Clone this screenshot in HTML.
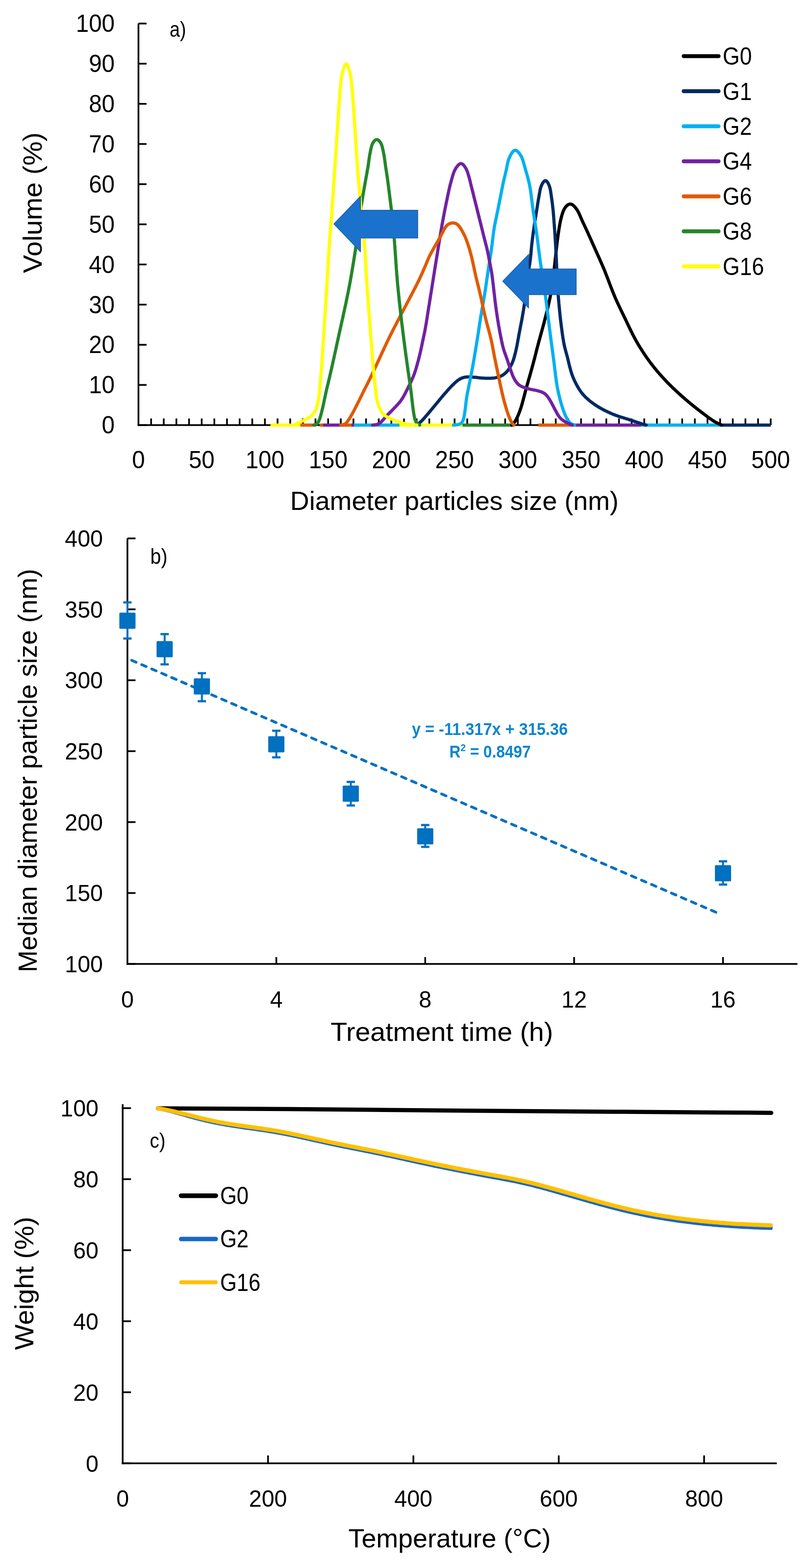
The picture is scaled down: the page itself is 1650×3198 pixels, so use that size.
<!DOCTYPE html>
<html><head><meta charset="utf-8"><title>Figure</title>
<style>html,body{margin:0;padding:0;background:#fff;}svg{display:block;}text{font-family:"Liberation Sans",Arial,sans-serif;}</style>
</head><body>
<svg width="1650" height="3198" viewBox="0 0 1650 3198" font-family="'Liberation Sans', Arial, sans-serif">
<rect width="100%" height="100%" fill="#fff"/>
<line x1="282.4" y1="48" x2="282.4" y2="868.75" stroke="#000" stroke-width="3.5" stroke-linecap="butt"/>
<line x1="280.65" y1="867" x2="1571.9" y2="867" stroke="#000" stroke-width="3.5" stroke-linecap="butt"/>
<line x1="282.4" y1="867" x2="298.9" y2="867" stroke="#000" stroke-width="3.5" stroke-linecap="butt"/>
<line x1="282.4" y1="785.1" x2="298.9" y2="785.1" stroke="#000" stroke-width="3.5" stroke-linecap="butt"/>
<line x1="282.4" y1="703.2" x2="298.9" y2="703.2" stroke="#000" stroke-width="3.5" stroke-linecap="butt"/>
<line x1="282.4" y1="621.3" x2="298.9" y2="621.3" stroke="#000" stroke-width="3.5" stroke-linecap="butt"/>
<line x1="282.4" y1="539.4" x2="298.9" y2="539.4" stroke="#000" stroke-width="3.5" stroke-linecap="butt"/>
<line x1="282.4" y1="457.5" x2="298.9" y2="457.5" stroke="#000" stroke-width="3.5" stroke-linecap="butt"/>
<line x1="282.4" y1="375.6" x2="298.9" y2="375.6" stroke="#000" stroke-width="3.5" stroke-linecap="butt"/>
<line x1="282.4" y1="293.7" x2="298.9" y2="293.7" stroke="#000" stroke-width="3.5" stroke-linecap="butt"/>
<line x1="282.4" y1="211.8" x2="298.9" y2="211.8" stroke="#000" stroke-width="3.5" stroke-linecap="butt"/>
<line x1="282.4" y1="129.9" x2="298.9" y2="129.9" stroke="#000" stroke-width="3.5" stroke-linecap="butt"/>
<line x1="282.4" y1="48" x2="298.9" y2="48" stroke="#000" stroke-width="3.5" stroke-linecap="butt"/>
<line x1="308.19" y1="867" x2="308.19" y2="853.5" stroke="#000" stroke-width="3.5" stroke-linecap="butt"/>
<line x1="333.98" y1="867" x2="333.98" y2="853.5" stroke="#000" stroke-width="3.5" stroke-linecap="butt"/>
<line x1="359.77" y1="867" x2="359.77" y2="853.5" stroke="#000" stroke-width="3.5" stroke-linecap="butt"/>
<line x1="385.56" y1="867" x2="385.56" y2="853.5" stroke="#000" stroke-width="3.5" stroke-linecap="butt"/>
<line x1="411.35" y1="867" x2="411.35" y2="853.5" stroke="#000" stroke-width="3.5" stroke-linecap="butt"/>
<line x1="437.14" y1="867" x2="437.14" y2="853.5" stroke="#000" stroke-width="3.5" stroke-linecap="butt"/>
<line x1="462.93" y1="867" x2="462.93" y2="853.5" stroke="#000" stroke-width="3.5" stroke-linecap="butt"/>
<line x1="488.72" y1="867" x2="488.72" y2="853.5" stroke="#000" stroke-width="3.5" stroke-linecap="butt"/>
<line x1="514.51" y1="867" x2="514.51" y2="853.5" stroke="#000" stroke-width="3.5" stroke-linecap="butt"/>
<line x1="540.3" y1="867" x2="540.3" y2="853.5" stroke="#000" stroke-width="3.5" stroke-linecap="butt"/>
<line x1="566.09" y1="867" x2="566.09" y2="853.5" stroke="#000" stroke-width="3.5" stroke-linecap="butt"/>
<line x1="591.88" y1="867" x2="591.88" y2="853.5" stroke="#000" stroke-width="3.5" stroke-linecap="butt"/>
<line x1="617.67" y1="867" x2="617.67" y2="853.5" stroke="#000" stroke-width="3.5" stroke-linecap="butt"/>
<line x1="643.46" y1="867" x2="643.46" y2="853.5" stroke="#000" stroke-width="3.5" stroke-linecap="butt"/>
<line x1="669.25" y1="867" x2="669.25" y2="853.5" stroke="#000" stroke-width="3.5" stroke-linecap="butt"/>
<line x1="695.04" y1="867" x2="695.04" y2="853.5" stroke="#000" stroke-width="3.5" stroke-linecap="butt"/>
<line x1="720.83" y1="867" x2="720.83" y2="853.5" stroke="#000" stroke-width="3.5" stroke-linecap="butt"/>
<line x1="746.62" y1="867" x2="746.62" y2="853.5" stroke="#000" stroke-width="3.5" stroke-linecap="butt"/>
<line x1="772.41" y1="867" x2="772.41" y2="853.5" stroke="#000" stroke-width="3.5" stroke-linecap="butt"/>
<line x1="798.2" y1="867" x2="798.2" y2="853.5" stroke="#000" stroke-width="3.5" stroke-linecap="butt"/>
<line x1="823.99" y1="867" x2="823.99" y2="853.5" stroke="#000" stroke-width="3.5" stroke-linecap="butt"/>
<line x1="849.78" y1="867" x2="849.78" y2="853.5" stroke="#000" stroke-width="3.5" stroke-linecap="butt"/>
<line x1="875.57" y1="867" x2="875.57" y2="853.5" stroke="#000" stroke-width="3.5" stroke-linecap="butt"/>
<line x1="901.36" y1="867" x2="901.36" y2="853.5" stroke="#000" stroke-width="3.5" stroke-linecap="butt"/>
<line x1="927.15" y1="867" x2="927.15" y2="853.5" stroke="#000" stroke-width="3.5" stroke-linecap="butt"/>
<line x1="952.94" y1="867" x2="952.94" y2="853.5" stroke="#000" stroke-width="3.5" stroke-linecap="butt"/>
<line x1="978.73" y1="867" x2="978.73" y2="853.5" stroke="#000" stroke-width="3.5" stroke-linecap="butt"/>
<line x1="1004.52" y1="867" x2="1004.52" y2="853.5" stroke="#000" stroke-width="3.5" stroke-linecap="butt"/>
<line x1="1030.31" y1="867" x2="1030.31" y2="853.5" stroke="#000" stroke-width="3.5" stroke-linecap="butt"/>
<line x1="1056.1" y1="867" x2="1056.1" y2="853.5" stroke="#000" stroke-width="3.5" stroke-linecap="butt"/>
<line x1="1081.89" y1="867" x2="1081.89" y2="853.5" stroke="#000" stroke-width="3.5" stroke-linecap="butt"/>
<line x1="1107.68" y1="867" x2="1107.68" y2="853.5" stroke="#000" stroke-width="3.5" stroke-linecap="butt"/>
<line x1="1133.47" y1="867" x2="1133.47" y2="853.5" stroke="#000" stroke-width="3.5" stroke-linecap="butt"/>
<line x1="1159.26" y1="867" x2="1159.26" y2="853.5" stroke="#000" stroke-width="3.5" stroke-linecap="butt"/>
<line x1="1185.05" y1="867" x2="1185.05" y2="853.5" stroke="#000" stroke-width="3.5" stroke-linecap="butt"/>
<line x1="1210.84" y1="867" x2="1210.84" y2="853.5" stroke="#000" stroke-width="3.5" stroke-linecap="butt"/>
<line x1="1236.63" y1="867" x2="1236.63" y2="853.5" stroke="#000" stroke-width="3.5" stroke-linecap="butt"/>
<line x1="1262.42" y1="867" x2="1262.42" y2="853.5" stroke="#000" stroke-width="3.5" stroke-linecap="butt"/>
<line x1="1288.21" y1="867" x2="1288.21" y2="853.5" stroke="#000" stroke-width="3.5" stroke-linecap="butt"/>
<line x1="1314" y1="867" x2="1314" y2="853.5" stroke="#000" stroke-width="3.5" stroke-linecap="butt"/>
<line x1="1339.79" y1="867" x2="1339.79" y2="853.5" stroke="#000" stroke-width="3.5" stroke-linecap="butt"/>
<line x1="1365.58" y1="867" x2="1365.58" y2="853.5" stroke="#000" stroke-width="3.5" stroke-linecap="butt"/>
<line x1="1391.37" y1="867" x2="1391.37" y2="853.5" stroke="#000" stroke-width="3.5" stroke-linecap="butt"/>
<line x1="1417.16" y1="867" x2="1417.16" y2="853.5" stroke="#000" stroke-width="3.5" stroke-linecap="butt"/>
<line x1="1442.95" y1="867" x2="1442.95" y2="853.5" stroke="#000" stroke-width="3.5" stroke-linecap="butt"/>
<line x1="1468.74" y1="867" x2="1468.74" y2="853.5" stroke="#000" stroke-width="3.5" stroke-linecap="butt"/>
<line x1="1494.53" y1="867" x2="1494.53" y2="853.5" stroke="#000" stroke-width="3.5" stroke-linecap="butt"/>
<line x1="1520.32" y1="867" x2="1520.32" y2="853.5" stroke="#000" stroke-width="3.5" stroke-linecap="butt"/>
<line x1="1546.11" y1="867" x2="1546.11" y2="853.5" stroke="#000" stroke-width="3.5" stroke-linecap="butt"/>
<line x1="1571.9" y1="867" x2="1571.9" y2="853.5" stroke="#000" stroke-width="3.5" stroke-linecap="butt"/>
<line x1="551.6" y1="867" x2="612.8" y2="867" stroke="#FFFF00" stroke-width="6.5" stroke-linecap="butt"/>
<line x1="612.8" y1="867" x2="645" y2="867" stroke="#E05A00" stroke-width="6.5" stroke-linecap="butt"/>
<line x1="652" y1="867" x2="659" y2="867" stroke="#E05A00" stroke-width="6.5" stroke-linecap="butt"/>
<line x1="659" y1="867" x2="702" y2="867" stroke="#7022A2" stroke-width="6.5" stroke-linecap="butt"/>
<line x1="702" y1="867" x2="717" y2="867" stroke="#E05A00" stroke-width="6.5" stroke-linecap="butt"/>
<line x1="717" y1="867" x2="722" y2="867" stroke="#7022A2" stroke-width="6.5" stroke-linecap="butt"/>
<line x1="722" y1="867" x2="814.5" y2="867" stroke="#00B0F0" stroke-width="6.5" stroke-linecap="butt"/>
<line x1="814.5" y1="867" x2="943.6" y2="867" stroke="#FFFF00" stroke-width="6.5" stroke-linecap="butt"/>
<line x1="943.6" y1="867" x2="1046.7" y2="867" stroke="#23862A" stroke-width="6.5" stroke-linecap="butt"/>
<line x1="1097.8" y1="867" x2="1167" y2="867" stroke="#E05A00" stroke-width="6.5" stroke-linecap="butt"/>
<line x1="1167" y1="867" x2="1307.7" y2="867" stroke="#7022A2" stroke-width="6.5" stroke-linecap="butt"/>
<line x1="1307.7" y1="867" x2="1470" y2="867" stroke="#00B0F0" stroke-width="6.5" stroke-linecap="butt"/>
<line x1="1470" y1="867" x2="1572" y2="867" stroke="#002A62" stroke-width="6.5" stroke-linecap="butt"/>
<path d="M1044 867 L1045.3 865.6 L1046.7 864.2 L1047.9 862.8 L1049.1 861.3 L1050.2 859.8 L1051.2 858.2 L1052.2 856.6 L1053.1 854.8 L1054 853.1 L1054.9 851.2 L1055.8 849.3 L1056.6 847.3 L1057.5 845.3 L1058.3 843.2 L1059.1 841.2 L1059.8 839.2 L1060.5 837.3 L1061.2 835.4 L1061.8 833.5 L1062.5 831.7 L1063 829.8 L1063.6 828 L1064.2 826.1 L1064.7 824.2 L1065.3 822.3 L1065.8 820.3 L1066.3 818.3 L1066.9 816.3 L1067.4 814.3 L1067.9 812.3 L1068.5 810.3 L1069 808.2 L1069.5 806.2 L1070 804.2 L1070.6 802.1 L1071.1 800.1 L1071.6 798.1 L1072.2 796.1 L1072.7 794.1 L1073.2 792.1 L1073.8 790.2 L1074.3 788.2 L1074.9 786.2 L1075.4 784.3 L1076 782.3 L1076.5 780.4 L1077.1 778.5 L1077.6 776.5 L1078.2 774.6 L1078.7 772.6 L1079.3 770.7 L1079.9 768.7 L1080.4 766.8 L1081 764.8 L1081.5 762.9 L1082.1 760.9 L1082.6 759 L1083.1 757.1 L1083.7 755.2 L1084.2 753.2 L1084.8 751.3 L1085.3 749.4 L1085.8 747.4 L1086.3 745.5 L1086.9 743.5 L1087.4 741.6 L1087.9 739.6 L1088.4 737.7 L1088.9 735.7 L1089.5 733.7 L1090 731.8 L1090.5 729.8 L1091 727.9 L1091.5 725.9 L1092 724 L1092.5 722 L1093 720.1 L1093.5 718.1 L1093.9 716.2 L1094.4 714.3 L1094.9 712.3 L1095.4 710.4 L1095.9 708.4 L1096.4 706.5 L1097 704.6 L1097.5 702.6 L1098 700.7 L1098.5 698.7 L1099 696.8 L1099.6 694.8 L1100.1 692.8 L1100.7 690.9 L1101.2 688.9 L1101.7 687 L1102.3 685 L1102.8 683 L1103.4 681.1 L1103.9 679.1 L1104.4 677.2 L1105 675.3 L1105.5 673.3 L1106 671.4 L1106.6 669.4 L1107.1 667.5 L1107.6 665.6 L1108.1 663.6 L1108.7 661.7 L1109.2 659.7 L1109.7 657.8 L1110.2 655.8 L1110.7 653.8 L1111.2 651.9 L1111.7 649.9 L1112.2 647.9 L1112.7 646 L1113.2 644 L1113.7 642.1 L1114.2 640.1 L1114.7 638.2 L1115.2 636.2 L1115.7 634.3 L1116.1 632.3 L1116.6 630.3 L1117.1 628.4 L1117.5 626.4 L1118 624.4 L1118.4 622.5 L1118.9 620.5 L1119.3 618.5 L1119.7 616.5 L1120.2 614.6 L1120.6 612.6 L1121 610.6 L1121.5 608.6 L1121.9 606.6 L1122.3 604.7 L1122.7 602.7 L1123.1 600.7 L1123.5 598.6 L1123.9 596.6 L1124.2 594.6 L1124.6 592.6 L1124.9 590.5 L1125.3 588.5 L1125.6 586.5 L1125.9 584.5 L1126.2 582.5 L1126.5 580.5 L1126.8 578.5 L1127.1 576.5 L1127.4 574.5 L1127.6 572.5 L1127.9 570.4 L1128.1 568.4 L1128.3 566.4 L1128.6 564.3 L1128.8 562.3 L1129 560.2 L1129.3 558.1 L1129.5 556.1 L1129.7 554 L1129.9 552 L1130.2 549.9 L1130.4 547.9 L1130.6 545.8 L1130.8 543.8 L1131.1 541.7 L1131.3 539.7 L1131.5 537.6 L1131.8 535.6 L1132 533.5 L1132.2 531.5 L1132.4 529.4 L1132.7 527.3 L1132.9 525.2 L1133.1 523.2 L1133.3 521.1 L1133.6 519 L1133.8 516.9 L1134 514.9 L1134.2 512.9 L1134.4 510.8 L1134.7 508.8 L1134.9 506.9 L1135.1 504.9 L1135.3 502.9 L1135.5 501 L1135.8 499 L1136 497.1 L1136.2 495.1 L1136.5 493.1 L1136.7 491.1 L1137 489.1 L1137.3 487 L1137.5 485 L1137.8 483 L1138.1 481 L1138.3 479 L1138.6 477 L1138.9 475.1 L1139.2 473.1 L1139.5 471.2 L1139.8 469.2 L1140.1 467.2 L1140.4 465.2 L1140.8 463.2 L1141.1 461.2 L1141.5 459.2 L1141.8 457.1 L1142.2 455.1 L1142.6 453.1 L1143 451.1 L1143.4 449.1 L1143.9 447.1 L1144.4 445.1 L1144.9 443.1 L1145.4 441.1 L1146 439.1 L1146.6 437.1 L1147.2 435.1 L1147.9 433.2 L1148.6 431.2 L1149.4 429.3 L1150.3 427.5 L1151.2 425.7 L1152.3 424 L1153.5 422.4 L1154.8 420.8 L1156.1 419.4 L1157.6 418.2 L1159.1 417.3 L1160.6 416.6 L1162.2 416.2 L1163.8 416.3 L1165.4 416.6 L1166.9 417.3 L1168.5 418.3 L1170 419.5 L1171.4 420.9 L1172.8 422.5 L1174.2 424.1 L1175.4 425.8 L1176.6 427.5 L1177.7 429.2 L1178.7 430.9 L1179.6 432.7 L1180.5 434.5 L1181.4 436.3 L1182.2 438.2 L1183.1 440.1 L1183.9 442 L1184.7 443.9 L1185.5 445.8 L1186.4 447.7 L1187.2 449.5 L1188 451.4 L1188.9 453.2 L1189.7 455 L1190.6 456.8 L1191.4 458.6 L1192.3 460.5 L1193.1 462.3 L1194 464.1 L1194.8 465.9 L1195.7 467.7 L1196.5 469.6 L1197.4 471.4 L1198.2 473.2 L1199.1 475.1 L1199.9 476.9 L1200.7 478.7 L1201.5 480.6 L1202.4 482.4 L1203.2 484.2 L1204 486.1 L1204.8 487.9 L1205.7 489.7 L1206.5 491.6 L1207.3 493.5 L1208.2 495.4 L1209 497.3 L1209.8 499.2 L1210.7 501.1 L1211.5 503 L1212.4 504.8 L1213.2 506.7 L1214 508.5 L1214.8 510.2 L1215.6 512 L1216.4 513.8 L1217.2 515.6 L1218 517.4 L1218.8 519.2 L1219.6 521 L1220.5 522.9 L1221.3 524.8 L1222.2 526.6 L1223 528.5 L1223.8 530.4 L1224.7 532.4 L1225.5 534.3 L1226.4 536.2 L1227.2 538.2 L1228.1 540.1 L1228.9 542.1 L1229.8 544 L1230.6 545.9 L1231.4 547.8 L1232.2 549.7 L1232.9 551.6 L1233.7 553.5 L1234.4 555.3 L1235.2 557.2 L1235.9 559 L1236.6 560.9 L1237.4 562.8 L1238.1 564.7 L1238.8 566.6 L1239.6 568.5 L1240.3 570.4 L1241 572.3 L1241.8 574.3 L1242.5 576.2 L1243.2 578.1 L1244 580.1 L1244.7 582 L1245.4 583.9 L1246.2 585.8 L1246.9 587.8 L1247.7 589.7 L1248.4 591.5 L1249.1 593.4 L1249.9 595.3 L1250.6 597.1 L1251.4 599 L1252.1 600.8 L1252.9 602.6 L1253.6 604.5 L1254.4 606.3 L1255.2 608.2 L1256.1 610 L1256.9 611.9 L1257.7 613.8 L1258.6 615.6 L1259.4 617.5 L1260.2 619.3 L1261.1 621.1 L1261.9 622.9 L1262.8 624.7 L1263.6 626.5 L1264.5 628.3 L1265.4 630.1 L1266.2 631.9 L1267.1 633.7 L1268 635.5 L1268.8 637.3 L1269.7 639.1 L1270.6 640.9 L1271.5 642.7 L1272.4 644.5 L1273.2 646.4 L1274.1 648.2 L1275 650 L1275.9 651.8 L1276.7 653.6 L1277.6 655.4 L1278.4 657.2 L1279.3 659 L1280.2 660.8 L1281 662.6 L1281.9 664.5 L1282.8 666.3 L1283.6 668.1 L1284.5 670 L1285.4 671.8 L1286.3 673.6 L1287.2 675.5 L1288.1 677.3 L1289 679.1 L1289.9 681 L1290.9 682.8 L1291.8 684.6 L1292.7 686.4 L1293.7 688.2 L1294.6 690 L1295.6 691.8 L1296.6 693.6 L1297.6 695.4 L1298.6 697.1 L1299.6 698.9 L1300.6 700.6 L1301.6 702.4 L1302.7 704.1 L1303.7 705.9 L1304.8 707.6 L1305.9 709.4 L1307 711.1 L1308.1 712.8 L1309.2 714.5 L1310.3 716.3 L1311.4 718 L1312.5 719.7 L1313.6 721.4 L1314.8 723.1 L1315.9 724.7 L1317 726.4 L1318.2 728.1 L1319.4 729.7 L1320.5 731.4 L1321.7 733 L1322.9 734.7 L1324.1 736.3 L1325.2 737.9 L1326.4 739.5 L1327.7 741.1 L1328.9 742.7 L1330.1 744.3 L1331.3 745.9 L1332.6 747.5 L1333.8 749.1 L1335.1 750.7 L1336.4 752.2 L1337.7 753.8 L1338.9 755.3 L1340.2 756.9 L1341.5 758.4 L1342.8 759.9 L1344.2 761.4 L1345.5 762.9 L1346.8 764.4 L1348.1 765.9 L1349.5 767.4 L1350.8 768.9 L1352.2 770.4 L1353.5 771.8 L1354.9 773.3 L1356.3 774.8 L1357.6 776.2 L1359 777.7 L1360.4 779.2 L1361.8 780.6 L1363.3 782.1 L1364.7 783.5 L1366.1 784.9 L1367.6 786.4 L1369 787.8 L1370.5 789.2 L1371.9 790.7 L1373.4 792.1 L1374.9 793.5 L1376.4 794.9 L1377.9 796.3 L1379.4 797.7 L1380.9 799.1 L1382.4 800.5 L1383.9 801.9 L1385.4 803.3 L1386.9 804.6 L1388.4 806 L1389.9 807.3 L1391.5 808.7 L1393 810 L1394.5 811.4 L1396.1 812.7 L1397.6 814.1 L1399.2 815.4 L1400.7 816.7 L1402.3 818.1 L1403.9 819.4 L1405.5 820.8 L1407.1 822.1 L1408.7 823.4 L1410.4 824.8 L1412 826.1 L1413.6 827.4 L1415.2 828.7 L1416.9 830 L1418.5 831.3 L1420.1 832.6 L1421.7 833.8 L1423.3 835.1 L1424.9 836.3 L1426.5 837.5 L1428 838.7 L1429.6 839.9 L1431.2 841.1 L1432.7 842.3 L1434.3 843.5 L1436 844.8 L1437.6 846 L1439.3 847.2 L1441 848.5 L1442.7 849.8 L1444.4 851 L1446.1 852.3 L1447.8 853.5 L1449.5 854.7 L1451.2 855.8 L1452.8 857 L1454.4 858 L1456 859.1 L1457.7 860.1 L1459.3 861 L1461 861.9 L1462.8 862.9 L1464.6 863.7 L1466.4 864.6 L1468.3 865.4 L1470.1 866.2 L1472 867" fill="none" stroke="#000000" stroke-width="6.5" stroke-linejoin="round" stroke-linecap="round"/>
<path d="M848 867 L849.7 866 L851.4 865.1 L853 864 L854.7 863 L856.2 861.8 L857.7 860.6 L859.1 859.3 L860.5 858 L861.9 856.5 L863.3 855 L864.7 853.4 L866.1 851.8 L867.5 850.2 L868.9 848.5 L870.3 846.9 L871.7 845.3 L873.1 843.7 L874.4 842.1 L875.8 840.5 L877.1 838.9 L878.4 837.3 L879.8 835.7 L881.1 834.1 L882.4 832.5 L883.7 830.9 L885.1 829.3 L886.4 827.7 L887.7 826.1 L889 824.5 L890.4 822.9 L891.7 821.3 L893 819.7 L894.3 818.1 L895.6 816.5 L896.9 814.9 L898.3 813.3 L899.6 811.7 L900.9 810.2 L902.2 808.6 L903.5 807 L904.9 805.4 L906.2 803.9 L907.6 802.3 L909 800.7 L910.4 799.2 L911.7 797.6 L913.1 796 L914.5 794.5 L915.9 792.9 L917.3 791.4 L918.7 789.9 L920.1 788.5 L921.5 787 L923 785.6 L924.4 784.1 L926 782.6 L927.5 781.2 L929 779.8 L930.6 778.4 L932.1 777.1 L933.7 775.9 L935.4 774.7 L937.1 773.6 L938.9 772.6 L940.8 771.7 L942.6 770.9 L944.6 770.2 L946.6 769.6 L948.6 769.2 L950.6 768.9 L952.6 768.8 L954.7 768.7 L956.8 768.7 L958.9 768.8 L961 768.9 L963.1 769.1 L965.2 769.2 L967.3 769.4 L969.4 769.6 L971.4 769.8 L973.5 770 L975.5 770.3 L977.6 770.5 L979.7 770.7 L981.7 770.9 L983.8 771 L985.9 771.2 L988 771.3 L990 771.4 L992.1 771.5 L994.2 771.5 L996.3 771.5 L998.4 771.5 L1000.4 771.4 L1002.5 771.3 L1004.6 771.2 L1006.7 771 L1008.8 770.7 L1010.8 770.4 L1012.8 770 L1014.8 769.4 L1016.8 768.9 L1018.8 768.2 L1020.7 767.4 L1022.5 766.6 L1024.4 765.6 L1026.1 764.6 L1027.7 763.4 L1029.3 762.2 L1030.8 760.9 L1032.3 759.5 L1033.7 758.1 L1035 756.6 L1036.2 755 L1037.4 753.4 L1038.6 751.7 L1039.6 750.1 L1040.7 748.3 L1041.6 746.6 L1042.6 744.7 L1043.5 742.9 L1044.3 741 L1045.1 739.1 L1045.9 737.2 L1046.6 735.3 L1047.3 733.4 L1047.9 731.5 L1048.5 729.5 L1049 727.5 L1049.6 725.5 L1050.1 723.4 L1050.7 721.3 L1051.2 719.3 L1051.7 717.2 L1052.2 715.2 L1052.6 713.3 L1053 711.4 L1053.4 709.5 L1053.8 707.6 L1054.2 705.7 L1054.6 703.8 L1054.9 701.9 L1055.3 699.9 L1055.7 697.9 L1056 695.9 L1056.4 693.8 L1056.8 691.7 L1057.2 689.5 L1057.6 687.5 L1057.9 685.4 L1058.3 683.5 L1058.6 681.6 L1059 679.8 L1059.3 677.9 L1059.7 676.1 L1060.1 674.2 L1060.4 672.3 L1060.8 670.4 L1061.2 668.4 L1061.5 666.4 L1061.9 664.4 L1062.3 662.4 L1062.7 660.3 L1063.1 658.2 L1063.5 656.2 L1063.9 654.1 L1064.3 652 L1064.7 649.9 L1065 647.8 L1065.4 645.6 L1065.8 643.5 L1066.2 641.4 L1066.5 639.3 L1066.9 637.2 L1067.2 635.2 L1067.6 633.1 L1067.9 631.1 L1068.2 629 L1068.5 627 L1068.8 625 L1069.1 622.9 L1069.4 620.9 L1069.7 618.8 L1070 616.8 L1070.2 614.7 L1070.5 612.6 L1070.7 610.5 L1071 608.4 L1071.2 606.3 L1071.4 604.2 L1071.6 602.1 L1071.9 600 L1072.1 598 L1072.3 595.9 L1072.5 593.8 L1072.7 591.8 L1072.9 589.7 L1073.1 587.7 L1073.3 585.7 L1073.5 583.7 L1073.7 581.7 L1073.9 579.8 L1074.1 577.8 L1074.4 575.9 L1074.6 574 L1074.8 572.1 L1075.1 570.2 L1075.3 568.3 L1075.6 566.3 L1075.9 564.3 L1076.2 562.2 L1076.6 560.1 L1076.9 558.1 L1077.3 556.1 L1077.6 554.1 L1078 552.1 L1078.3 550.1 L1078.7 548.2 L1079 546.3 L1079.3 544.3 L1079.7 542.4 L1080 540.5 L1080.3 538.5 L1080.6 536.5 L1080.9 534.6 L1081.2 532.6 L1081.4 530.6 L1081.7 528.6 L1081.9 526.6 L1082.1 524.6 L1082.3 522.6 L1082.5 520.6 L1082.7 518.6 L1082.9 516.6 L1083.1 514.6 L1083.2 512.6 L1083.4 510.6 L1083.6 508.6 L1083.8 506.5 L1084 504.5 L1084.2 502.5 L1084.4 500.5 L1084.6 498.5 L1084.8 496.5 L1085.1 494.5 L1085.3 492.5 L1085.5 490.4 L1085.8 488.4 L1086 486.4 L1086.3 484.3 L1086.6 482.3 L1086.8 480.3 L1087.1 478.2 L1087.4 476.2 L1087.6 474.2 L1087.9 472.2 L1088.2 470.2 L1088.5 468.2 L1088.8 466.2 L1089 464.3 L1089.3 462.3 L1089.6 460.3 L1089.9 458.3 L1090.2 456.3 L1090.5 454.2 L1090.9 452.2 L1091.2 450.2 L1091.5 448.2 L1091.8 446.2 L1092.1 444.2 L1092.5 442.2 L1092.8 440.2 L1093.1 438.2 L1093.4 436.3 L1093.8 434.3 L1094.1 432.3 L1094.4 430.3 L1094.7 428.3 L1095 426.2 L1095.4 424.2 L1095.7 422.1 L1096 420.1 L1096.3 418 L1096.6 416 L1097 413.9 L1097.3 411.9 L1097.6 409.9 L1097.9 407.9 L1098.3 405.9 L1098.6 404 L1099 402 L1099.3 400 L1099.7 398 L1100 395.9 L1100.4 393.8 L1100.8 391.8 L1101.1 389.7 L1101.5 387.7 L1102 385.8 L1102.5 383.8 L1103 382 L1103.7 380.1 L1104.5 378.2 L1105.4 376.2 L1106.4 374.3 L1107.6 372.4 L1108.8 370.7 L1110 369.5 L1111.3 368.6 L1112.5 368.4 L1113.8 368.8 L1115 369.8 L1116.3 371.2 L1117.4 373 L1118.5 375 L1119.5 377.1 L1120.3 379.1 L1121 381 L1121.5 382.9 L1122 384.8 L1122.4 386.7 L1122.8 388.7 L1123.1 390.7 L1123.4 392.8 L1123.7 394.9 L1124 396.9 L1124.3 399 L1124.6 401 L1124.9 403 L1125.2 405 L1125.5 406.9 L1125.7 408.9 L1126 410.9 L1126.3 412.9 L1126.5 415 L1126.7 417 L1127 419 L1127.2 421.1 L1127.4 423.2 L1127.7 425.2 L1127.9 427.2 L1128.1 429.3 L1128.3 431.3 L1128.5 433.3 L1128.7 435.3 L1128.8 437.3 L1129 439.2 L1129.2 441.2 L1129.3 443.2 L1129.5 445.2 L1129.6 447.2 L1129.8 449.2 L1129.9 451.2 L1130.1 453.2 L1130.2 455.2 L1130.4 457.3 L1130.5 459.3 L1130.7 461.3 L1130.8 463.3 L1130.9 465.3 L1131.1 467.2 L1131.2 469.2 L1131.4 471.2 L1131.5 473.2 L1131.6 475.2 L1131.8 477.2 L1131.9 479.3 L1132.1 481.3 L1132.2 483.3 L1132.3 485.4 L1132.4 487.4 L1132.6 489.4 L1132.7 491.4 L1132.8 493.5 L1132.9 495.5 L1133.1 497.5 L1133.2 499.5 L1133.3 501.5 L1133.4 503.5 L1133.5 505.5 L1133.6 507.5 L1133.7 509.5 L1133.8 511.5 L1133.9 513.5 L1134 515.5 L1134.1 517.5 L1134.2 519.5 L1134.3 521.5 L1134.4 523.5 L1134.5 525.5 L1134.6 527.6 L1134.7 529.6 L1134.8 531.6 L1134.8 533.6 L1134.9 535.6 L1135 537.6 L1135.1 539.7 L1135.2 541.7 L1135.3 543.7 L1135.4 545.7 L1135.5 547.8 L1135.6 549.8 L1135.6 551.8 L1135.7 553.9 L1135.8 555.9 L1135.9 557.9 L1136 560 L1136.1 562 L1136.2 564 L1136.3 566 L1136.4 568 L1136.5 570 L1136.6 572.1 L1136.7 574.1 L1136.8 576.1 L1136.9 578.1 L1137 580.1 L1137.2 582.1 L1137.3 584.1 L1137.4 586 L1137.5 588 L1137.6 590.1 L1137.8 592.1 L1137.9 594.1 L1138.1 596.2 L1138.2 598.3 L1138.4 600.4 L1138.5 602.5 L1138.7 604.6 L1138.8 606.6 L1139 608.5 L1139.2 610.4 L1139.3 612.3 L1139.5 614.2 L1139.7 616.2 L1139.8 618.2 L1140 620.2 L1140.2 622.2 L1140.4 624.2 L1140.6 626.3 L1140.8 628.3 L1141 630.4 L1141.2 632.5 L1141.4 634.5 L1141.6 636.6 L1141.8 638.7 L1142 640.8 L1142.2 642.9 L1142.5 644.9 L1142.7 647 L1142.9 649 L1143.1 651 L1143.4 653 L1143.6 655 L1143.8 657 L1144.1 659 L1144.3 661 L1144.6 663 L1144.9 665.1 L1145.1 667.2 L1145.4 669.3 L1145.7 671.5 L1146 673.6 L1146.2 675.7 L1146.5 677.8 L1146.8 679.9 L1147.1 682 L1147.4 684.1 L1147.7 686.1 L1148 688.1 L1148.3 690.1 L1148.7 692.1 L1149 694 L1149.3 695.9 L1149.6 697.8 L1150 699.7 L1150.3 701.5 L1150.7 703.4 L1151.1 705.4 L1151.6 707.4 L1152.1 709.4 L1152.6 711.5 L1153.1 713.5 L1153.6 715.5 L1154.2 717.5 L1154.7 719.4 L1155.3 721.3 L1155.8 723.2 L1156.3 725.2 L1156.9 727.1 L1157.4 729.1 L1157.9 731.1 L1158.4 733.1 L1158.8 735.1 L1159.3 737.1 L1159.8 739.1 L1160.3 741.1 L1160.7 743.1 L1161.2 745.1 L1161.7 747.1 L1162.2 749.1 L1162.8 751 L1163.3 753 L1163.9 754.9 L1164.4 756.9 L1165 758.8 L1165.6 760.7 L1166.2 762.7 L1166.9 764.6 L1167.6 766.5 L1168.3 768.4 L1169.1 770.4 L1169.9 772.2 L1170.7 774.1 L1171.5 775.9 L1172.3 777.6 L1173.2 779.4 L1174.1 781.2 L1175 783 L1176 784.8 L1177 786.7 L1178 788.5 L1179.1 790.3 L1180.2 792.1 L1181.3 793.9 L1182.4 795.6 L1183.6 797.3 L1184.8 799 L1186 800.6 L1187.3 802.2 L1188.5 803.8 L1189.9 805.3 L1191.2 806.8 L1192.6 808.2 L1194 809.7 L1195.4 811.1 L1196.9 812.4 L1198.4 813.8 L1199.9 815.1 L1201.4 816.4 L1203 817.7 L1204.6 819 L1206.2 820.2 L1207.9 821.5 L1209.5 822.7 L1211.2 823.9 L1212.8 825 L1214.5 826.2 L1216.1 827.2 L1217.8 828.3 L1219.5 829.3 L1221.2 830.4 L1222.9 831.4 L1224.6 832.4 L1226.4 833.4 L1228.2 834.3 L1230 835.3 L1231.8 836.3 L1233.7 837.2 L1235.5 838.1 L1237.4 839 L1239.2 839.9 L1241 840.8 L1242.9 841.6 L1244.7 842.5 L1246.6 843.3 L1248.4 844.1 L1250.3 844.9 L1252.2 845.6 L1254.1 846.4 L1256.1 847.1 L1258 847.8 L1260 848.5 L1262 849.2 L1264 849.9 L1266 850.5 L1267.9 851.1 L1269.9 851.7 L1271.9 852.3 L1273.8 852.9 L1275.7 853.5 L1277.6 854.1 L1279.5 854.7 L1281.3 855.2 L1283.2 855.8 L1285 856.4 L1286.9 857 L1288.9 857.7 L1291 858.4 L1293 859.1 L1295.1 859.8 L1297.1 860.5 L1299.1 861.1 L1301 861.8 L1302.9 862.4 L1304.7 863 L1306.5 863.6 L1308.4 864.2 L1310.2 864.8 L1312.2 865.3 L1314.1 865.9 L1316.1 866.5 L1318 867" fill="none" stroke="#002A62" stroke-width="6.5" stroke-linejoin="round" stroke-linecap="round"/>
<path d="M925 867 L927.1 866.8 L929.2 866.6 L931.3 866.4 L933.3 866.1 L935.3 865.7 L937.1 865.2 L938.8 864.4 L940.2 863.5 L941.3 862.5 L942.3 861.3 L943.1 860.1 L943.7 858.8 L944.3 857.3 L944.9 855.8 L945.4 854.1 L945.9 852.3 L946.3 850.4 L946.7 848.5 L947.1 846.5 L947.5 844.4 L947.8 842.2 L948.1 840 L948.4 837.8 L948.7 835.5 L949 833.2 L949.3 830.9 L949.5 828.6 L949.8 826.2 L950.1 823.9 L950.3 821.6 L950.6 819.3 L950.9 817.1 L951.2 814.9 L951.5 812.7 L951.8 810.6 L952.1 808.5 L952.5 806.5 L952.8 804.4 L953.2 802.4 L953.6 800.3 L954.1 798.3 L954.5 796.2 L954.9 794.1 L955.3 792 L955.7 790 L956.1 787.9 L956.6 785.9 L957 783.8 L957.4 781.8 L957.8 779.8 L958.2 777.7 L958.6 775.7 L959 773.8 L959.4 771.8 L959.8 769.8 L960.2 767.9 L960.5 766 L960.9 764.1 L961.3 762.2 L961.6 760.4 L962 758.5 L962.4 756.6 L962.7 754.6 L963.1 752.6 L963.5 750.6 L963.9 748.5 L964.2 746.5 L964.6 744.5 L965 742.5 L965.3 740.6 L965.6 738.6 L966 736.7 L966.3 734.8 L966.7 732.8 L967 730.9 L967.3 728.9 L967.7 727 L968 725 L968.3 723 L968.7 721.1 L969 719.1 L969.3 717.1 L969.7 715.2 L970 713.2 L970.3 711.3 L970.6 709.3 L971 707.3 L971.3 705.3 L971.6 703.3 L971.9 701.2 L972.3 699.2 L972.6 697.1 L972.9 695.1 L973.3 693 L973.6 691.1 L973.9 689.1 L974.2 687.2 L974.5 685.3 L974.8 683.4 L975.1 681.5 L975.4 679.5 L975.7 677.5 L976 675.6 L976.3 673.5 L976.6 671.5 L976.9 669.5 L977.2 667.5 L977.5 665.4 L977.8 663.4 L978.1 661.4 L978.4 659.3 L978.7 657.3 L979.1 655.3 L979.4 653.2 L979.7 651.2 L980 649.2 L980.3 647.2 L980.7 645.2 L981 643.2 L981.3 641.3 L981.7 639.3 L982 637.3 L982.3 635.3 L982.7 633.3 L983 631.4 L983.4 629.4 L983.7 627.4 L984.1 625.4 L984.4 623.4 L984.8 621.5 L985.1 619.5 L985.5 617.5 L985.8 615.5 L986.2 613.6 L986.5 611.6 L986.8 609.6 L987.2 607.6 L987.5 605.6 L987.8 603.7 L988.2 601.7 L988.5 599.7 L988.8 597.7 L989.1 595.7 L989.4 593.8 L989.7 591.8 L990 589.8 L990.3 587.8 L990.6 585.8 L990.9 583.8 L991.2 581.9 L991.5 579.9 L991.8 577.9 L992.1 575.9 L992.4 573.9 L992.6 571.9 L992.9 570 L993.2 568 L993.5 566 L993.8 564 L994.1 562 L994.4 560 L994.7 558.1 L995 556.1 L995.3 554.1 L995.6 552.1 L995.9 550.1 L996.2 548.1 L996.5 546.1 L996.8 544.2 L997.1 542.2 L997.4 540.2 L997.7 538.2 L998 536.2 L998.3 534.2 L998.6 532.2 L998.9 530.2 L999.3 528.2 L999.6 526.2 L999.9 524.2 L1000.2 522.3 L1000.5 520.3 L1000.8 518.3 L1001.1 516.4 L1001.4 514.4 L1001.7 512.4 L1001.9 510.5 L1002.2 508.5 L1002.5 506.5 L1002.8 504.5 L1003.1 502.4 L1003.3 500.3 L1003.6 498.3 L1003.9 496.2 L1004.1 494.1 L1004.4 492 L1004.6 489.9 L1004.9 487.8 L1005.1 485.7 L1005.4 483.6 L1005.6 481.6 L1005.9 479.6 L1006.1 477.6 L1006.4 475.6 L1006.7 473.7 L1006.9 471.8 L1007.2 469.9 L1007.5 468 L1007.8 466.1 L1008.1 464.1 L1008.4 462.1 L1008.8 460.1 L1009.2 458 L1009.6 456 L1010 454 L1010.4 452 L1010.8 450 L1011.3 448.1 L1011.7 446.1 L1012.1 444.1 L1012.5 442.2 L1012.9 440.2 L1013.3 438.2 L1013.7 436.1 L1014.1 434.1 L1014.5 432.1 L1015 430.1 L1015.4 428 L1015.8 426 L1016.2 424 L1016.6 422 L1017 419.9 L1017.4 417.9 L1017.8 415.9 L1018.2 413.8 L1018.6 411.8 L1019 409.8 L1019.4 407.8 L1019.8 405.7 L1020.2 403.7 L1020.6 401.7 L1021 399.7 L1021.4 397.6 L1021.8 395.6 L1022.2 393.6 L1022.6 391.6 L1023 389.5 L1023.4 387.5 L1023.8 385.5 L1024.2 383.5 L1024.6 381.4 L1025 379.4 L1025.4 377.4 L1025.8 375.3 L1026.3 373.3 L1026.7 371.3 L1027.2 369.3 L1027.6 367.3 L1028.1 365.3 L1028.6 363.2 L1029.1 361.2 L1029.6 359.2 L1030.1 357.2 L1030.5 355.2 L1031 353.1 L1031.5 351.1 L1032 349.1 L1032.5 347 L1032.9 345 L1033.3 342.9 L1033.7 340.9 L1034.1 338.8 L1034.5 336.7 L1034.9 334.7 L1035.4 332.6 L1035.8 330.6 L1036.4 328.6 L1036.9 326.6 L1037.6 324.7 L1038.3 322.8 L1039.2 320.8 L1040.1 318.8 L1041.2 316.7 L1042.3 314.7 L1043.5 312.7 L1044.7 310.9 L1046 309.3 L1047.3 308 L1048.6 307.1 L1050 306.6 L1051.4 306.5 L1052.8 306.9 L1054.3 307.8 L1055.8 309 L1057.3 310.5 L1058.7 312.2 L1060.1 314.1 L1061.3 315.9 L1062.4 317.7 L1063.4 319.4 L1064.2 321.2 L1065 323 L1065.7 324.8 L1066.4 326.7 L1067 328.7 L1067.6 330.7 L1068.2 332.7 L1068.7 334.8 L1069.3 336.9 L1069.9 339 L1070.4 341 L1071 343 L1071.6 345 L1072.1 347 L1072.7 348.9 L1073.2 350.8 L1073.8 352.7 L1074.4 354.6 L1074.9 356.5 L1075.4 358.4 L1076 360.4 L1076.5 362.4 L1077 364.4 L1077.5 366.4 L1078 368.4 L1078.5 370.5 L1079 372.6 L1079.5 374.7 L1079.9 376.7 L1080.3 378.7 L1080.7 380.7 L1081 382.6 L1081.3 384.5 L1081.7 386.4 L1082 388.3 L1082.3 390.3 L1082.6 392.3 L1082.8 394.3 L1083.1 396.3 L1083.4 398.3 L1083.6 400.4 L1083.9 402.4 L1084.2 404.5 L1084.4 406.6 L1084.7 408.6 L1084.9 410.7 L1085.2 412.8 L1085.4 414.8 L1085.7 416.9 L1085.9 418.9 L1086.2 421 L1086.5 423 L1086.7 425 L1087 427 L1087.3 429 L1087.6 431.1 L1087.9 433.1 L1088.2 435.1 L1088.5 437.1 L1088.8 439.1 L1089.1 441.1 L1089.4 443.1 L1089.7 445.1 L1090 447 L1090.3 449 L1090.6 451 L1090.9 453 L1091.3 454.9 L1091.6 456.9 L1091.9 458.9 L1092.2 460.9 L1092.5 462.9 L1092.8 464.9 L1093.1 466.9 L1093.4 468.9 L1093.7 470.9 L1094 472.9 L1094.3 474.9 L1094.6 476.9 L1094.9 478.9 L1095.1 480.9 L1095.4 482.8 L1095.7 484.8 L1095.9 486.7 L1096.2 488.7 L1096.4 490.6 L1096.7 492.6 L1096.9 494.6 L1097.2 496.5 L1097.4 498.5 L1097.7 500.5 L1097.9 502.5 L1098.1 504.4 L1098.4 506.4 L1098.6 508.5 L1098.9 510.5 L1099.2 512.5 L1099.4 514.6 L1099.7 516.6 L1099.9 518.7 L1100.2 520.8 L1100.5 522.9 L1100.8 525 L1101.1 527.1 L1101.3 529.1 L1101.6 531.1 L1101.9 533.1 L1102.2 535 L1102.4 536.9 L1102.7 538.8 L1103 540.7 L1103.3 542.6 L1103.6 544.5 L1103.8 546.5 L1104.1 548.4 L1104.4 550.4 L1104.7 552.4 L1105 554.3 L1105.3 556.3 L1105.6 558.3 L1105.9 560.3 L1106.3 562.3 L1106.6 564.4 L1106.9 566.4 L1107.2 568.4 L1107.5 570.4 L1107.8 572.5 L1108.1 574.5 L1108.4 576.5 L1108.7 578.6 L1109.1 580.6 L1109.4 582.7 L1109.7 584.7 L1110 586.7 L1110.3 588.8 L1110.6 590.8 L1110.9 592.8 L1111.2 594.9 L1111.5 596.9 L1111.8 598.9 L1112 600.9 L1112.3 602.9 L1112.6 604.9 L1112.9 606.9 L1113.1 608.9 L1113.4 610.9 L1113.7 612.9 L1113.9 614.9 L1114.2 616.9 L1114.5 619 L1114.7 621 L1115 623 L1115.2 625 L1115.5 627.1 L1115.8 629.1 L1116 631.1 L1116.3 633.2 L1116.5 635.2 L1116.8 637.2 L1117 639.3 L1117.3 641.3 L1117.5 643.3 L1117.8 645.3 L1118 647.3 L1118.3 649.4 L1118.5 651.4 L1118.8 653.4 L1119 655.3 L1119.2 657.3 L1119.5 659.3 L1119.7 661.3 L1120 663.2 L1120.2 665.2 L1120.4 667.1 L1120.7 669 L1120.9 670.9 L1121.2 672.8 L1121.4 674.7 L1121.7 676.7 L1121.9 678.6 L1122.2 680.6 L1122.4 682.6 L1122.7 684.7 L1123 686.7 L1123.2 688.8 L1123.5 690.9 L1123.8 692.9 L1124 694.9 L1124.3 696.9 L1124.6 698.9 L1124.8 700.9 L1125.1 702.9 L1125.3 704.9 L1125.6 706.9 L1125.9 708.8 L1126.1 710.8 L1126.4 712.7 L1126.6 714.7 L1126.9 716.6 L1127.2 718.6 L1127.4 720.5 L1127.7 722.5 L1128 724.5 L1128.2 726.4 L1128.5 728.4 L1128.7 730.4 L1129 732.3 L1129.3 734.3 L1129.5 736.3 L1129.8 738.3 L1130 740.3 L1130.3 742.4 L1130.5 744.4 L1130.8 746.5 L1131 748.5 L1131.3 750.6 L1131.5 752.6 L1131.8 754.7 L1132 756.7 L1132.3 758.8 L1132.5 760.8 L1132.8 762.9 L1133 764.9 L1133.3 767 L1133.5 769 L1133.8 771 L1134.1 773 L1134.3 775 L1134.6 777 L1134.9 778.9 L1135.2 780.8 L1135.5 782.8 L1135.8 784.6 L1136.1 786.5 L1136.4 788.4 L1136.8 790.4 L1137.2 792.4 L1137.6 794.4 L1138 796.5 L1138.4 798.6 L1138.9 800.6 L1139.3 802.7 L1139.8 804.8 L1140.3 806.8 L1140.8 808.8 L1141.3 810.8 L1141.8 812.7 L1142.3 814.7 L1142.8 816.6 L1143.3 818.4 L1143.8 820.3 L1144.3 822.2 L1144.9 824 L1145.4 825.8 L1146 827.7 L1146.6 829.6 L1147.3 831.6 L1147.9 833.6 L1148.6 835.7 L1149.3 837.7 L1150 839.7 L1150.8 841.6 L1151.5 843.5 L1152.3 845.3 L1153 847.1 L1153.8 848.9 L1154.7 850.6 L1155.6 852.4 L1156.5 854.3 L1157.6 856.1 L1158.7 858 L1159.9 859.7 L1161.2 861.2 L1162.7 862.6 L1164.3 863.8 L1166.1 864.8 L1168 865.6 L1170 866.3 L1172 867" fill="none" stroke="#00B0F0" stroke-width="6.5" stroke-linejoin="round" stroke-linecap="round"/>
<path d="M760 867 L762 866.8 L764 866.6 L766 866.3 L767.9 865.9 L769.8 865.4 L771.6 864.7 L773.2 863.8 L774.8 862.7 L776.3 861.5 L777.8 860.1 L779.2 858.6 L780.7 857.1 L782.1 855.4 L783.6 853.8 L785 852.1 L786.5 850.5 L787.9 848.9 L789.3 847.4 L790.8 845.9 L792.2 844.4 L793.7 843 L795.1 841.5 L796.6 840.1 L798 838.7 L799.4 837.2 L800.8 835.8 L802.2 834.4 L803.6 832.9 L805 831.4 L806.4 830 L807.8 828.5 L809.2 827 L810.6 825.5 L812 823.9 L813.3 822.4 L814.7 820.8 L816 819.2 L817.2 817.6 L818.4 815.9 L819.5 814.2 L820.6 812.6 L821.6 810.9 L822.7 809.2 L823.6 807.5 L824.6 805.7 L825.6 803.9 L826.5 802.1 L827.5 800.2 L828.4 798.4 L829.3 796.5 L830.3 794.7 L831.2 792.9 L832.1 791 L833 789.2 L833.9 787.4 L834.8 785.6 L835.7 783.8 L836.6 782 L837.5 780.2 L838.3 778.3 L839.2 776.5 L840 774.6 L840.9 772.7 L841.7 770.8 L842.5 768.9 L843.3 767 L844 765.1 L844.8 763.2 L845.4 761.3 L846.1 759.4 L846.7 757.5 L847.3 755.6 L848 753.7 L848.5 751.7 L849.1 749.8 L849.7 747.8 L850.3 745.8 L850.8 743.8 L851.4 741.8 L851.9 739.8 L852.4 737.8 L853 735.9 L853.5 733.9 L854 731.9 L854.5 729.9 L855 727.9 L855.5 725.9 L856 723.9 L856.5 721.9 L857 719.8 L857.4 717.8 L857.9 715.7 L858.3 713.6 L858.8 711.6 L859.2 709.6 L859.7 707.5 L860.1 705.5 L860.5 703.6 L860.9 701.6 L861.3 699.6 L861.7 697.7 L862.1 695.8 L862.5 693.8 L863 691.8 L863.4 689.9 L863.8 687.9 L864.2 685.9 L864.6 684 L865.1 682.1 L865.5 680.1 L865.9 678.1 L866.3 676.1 L866.7 674.1 L867 672.1 L867.4 670.2 L867.7 668.3 L868.1 666.4 L868.4 664.5 L868.7 662.6 L869 660.7 L869.4 658.8 L869.7 656.8 L870 654.8 L870.3 652.8 L870.6 650.8 L871 648.7 L871.3 646.6 L871.6 644.5 L871.9 642.5 L872.3 640.4 L872.6 638.3 L872.9 636.3 L873.2 634.2 L873.6 632.2 L873.9 630.1 L874.2 628.1 L874.5 626.1 L874.8 624.1 L875.2 622.1 L875.5 620.2 L875.8 618.2 L876.1 616.2 L876.4 614.2 L876.7 612.2 L877.1 610.2 L877.4 608.2 L877.7 606.3 L878 604.3 L878.3 602.3 L878.6 600.3 L878.9 598.3 L879.3 596.3 L879.6 594.3 L879.9 592.4 L880.2 590.4 L880.5 588.4 L880.8 586.4 L881.2 584.4 L881.5 582.4 L881.8 580.4 L882.1 578.4 L882.4 576.5 L882.7 574.5 L883.1 572.5 L883.4 570.5 L883.7 568.5 L884 566.5 L884.3 564.5 L884.6 562.6 L884.9 560.6 L885.3 558.6 L885.6 556.6 L885.9 554.6 L886.2 552.6 L886.5 550.6 L886.8 548.7 L887.2 546.7 L887.5 544.7 L887.8 542.7 L888.1 540.7 L888.4 538.7 L888.8 536.7 L889.1 534.6 L889.4 532.6 L889.8 530.6 L890.1 528.5 L890.4 526.5 L890.7 524.4 L891.1 522.4 L891.4 520.4 L891.7 518.3 L892.1 516.3 L892.4 514.3 L892.7 512.4 L893 510.4 L893.3 508.5 L893.6 506.5 L893.9 504.6 L894.3 502.7 L894.6 500.7 L894.9 498.7 L895.2 496.7 L895.6 494.7 L895.9 492.6 L896.2 490.5 L896.6 488.5 L896.9 486.5 L897.2 484.5 L897.5 482.5 L897.8 480.6 L898.2 478.6 L898.5 476.6 L898.8 474.6 L899.2 472.6 L899.5 470.6 L899.8 468.7 L900.2 466.7 L900.5 464.7 L900.9 462.8 L901.2 460.8 L901.5 458.9 L901.9 456.9 L902.2 455 L902.6 453 L903 451 L903.3 449 L903.7 447 L904.1 445 L904.4 443 L904.8 441 L905.2 439.1 L905.6 437.1 L905.9 435.1 L906.3 433.1 L906.7 431.1 L907.1 429.1 L907.5 427.1 L907.9 425.1 L908.3 423.1 L908.7 421.1 L909.1 419 L909.5 417 L909.9 415 L910.3 413 L910.7 411 L911.2 409 L911.6 407 L912 405 L912.4 402.9 L912.9 400.9 L913.3 398.9 L913.7 396.9 L914.1 394.8 L914.6 392.8 L915 390.8 L915.4 388.8 L915.9 386.7 L916.3 384.7 L916.8 382.8 L917.3 380.8 L917.7 378.8 L918.2 376.8 L918.7 374.9 L919.3 372.9 L919.8 370.9 L920.4 368.9 L920.9 366.8 L921.5 364.7 L922.1 362.6 L922.7 360.6 L923.3 358.5 L923.9 356.5 L924.5 354.5 L925.2 352.6 L925.9 350.8 L926.6 349 L927.5 347.2 L928.4 345.5 L929.4 343.7 L930.5 341.9 L931.8 340.1 L933.2 338.4 L934.6 336.8 L936 335.4 L937.5 334.4 L939 333.8 L940.4 333.6 L941.9 334 L943.4 334.8 L944.8 336 L946.3 337.6 L947.6 339.4 L948.8 341.2 L950 343.1 L951 345 L951.9 346.9 L952.7 348.8 L953.4 350.8 L954.1 352.7 L954.7 354.8 L955.3 356.8 L955.9 358.8 L956.5 360.8 L957 362.8 L957.6 364.8 L958.1 366.8 L958.6 368.8 L959.1 370.7 L959.5 372.7 L960 374.7 L960.5 376.7 L960.9 378.6 L961.4 380.6 L961.9 382.6 L962.4 384.5 L962.9 386.5 L963.4 388.4 L963.9 390.4 L964.4 392.3 L964.9 394.3 L965.4 396.3 L965.9 398.2 L966.3 400.2 L966.8 402.2 L967.3 404.1 L967.8 406.1 L968.3 408.1 L968.8 410 L969.3 412 L969.8 414 L970.3 415.9 L970.8 417.9 L971.3 419.9 L971.8 421.8 L972.3 423.8 L972.7 425.7 L973.2 427.7 L973.7 429.6 L974.2 431.6 L974.7 433.6 L975.2 435.5 L975.7 437.5 L976.1 439.4 L976.6 441.4 L977.1 443.4 L977.6 445.3 L978.1 447.3 L978.6 449.2 L979.1 451.2 L979.6 453.1 L980.1 455.1 L980.6 457.1 L981.1 459 L981.6 461 L982 463 L982.5 464.9 L983 466.9 L983.5 468.9 L984 470.8 L984.5 472.8 L984.9 474.8 L985.4 476.7 L985.9 478.7 L986.4 480.7 L986.9 482.6 L987.4 484.6 L987.9 486.5 L988.4 488.5 L988.9 490.4 L989.4 492.4 L989.9 494.3 L990.4 496.3 L990.9 498.2 L991.4 500.1 L991.9 502.1 L992.4 504 L992.9 506 L993.4 508 L993.8 510 L994.3 511.9 L994.7 513.9 L995.1 515.9 L995.5 518 L996 520 L996.4 522 L996.7 524.1 L997.1 526.2 L997.5 528.2 L997.9 530.3 L998.3 532.3 L998.7 534.4 L999.1 536.4 L999.5 538.4 L999.9 540.4 L1000.2 542.4 L1000.6 544.3 L1001 546.3 L1001.4 548.3 L1001.7 550.4 L1002.1 552.4 L1002.5 554.5 L1002.8 556.5 L1003.1 558.5 L1003.4 560.5 L1003.7 562.5 L1003.9 564.5 L1004.2 566.5 L1004.5 568.5 L1004.7 570.5 L1005 572.6 L1005.2 574.6 L1005.5 576.7 L1005.7 578.8 L1005.9 580.8 L1006.2 582.9 L1006.4 584.9 L1006.6 587 L1006.9 589 L1007.1 591 L1007.4 593.1 L1007.6 595.1 L1007.8 597.1 L1008.1 599.2 L1008.3 601.2 L1008.5 603.2 L1008.8 605.2 L1009 607.2 L1009.2 609.2 L1009.4 611.2 L1009.7 613.2 L1009.9 615.2 L1010.1 617.1 L1010.4 619.1 L1010.6 621.1 L1010.9 623.1 L1011.2 625 L1011.4 627 L1011.7 629 L1012 630.9 L1012.2 632.9 L1012.5 634.8 L1012.8 636.8 L1013.1 638.8 L1013.4 640.8 L1013.7 642.8 L1014 644.8 L1014.3 646.8 L1014.6 648.8 L1014.9 650.7 L1015.2 652.7 L1015.5 654.7 L1015.9 656.7 L1016.2 658.7 L1016.5 660.7 L1016.9 662.8 L1017.2 664.8 L1017.6 666.9 L1018 668.9 L1018.3 671 L1018.7 673 L1019.1 675 L1019.4 677 L1019.8 679.1 L1020.2 681.1 L1020.6 683.1 L1021 685.2 L1021.4 687.3 L1021.8 689.4 L1022.3 691.4 L1022.7 693.5 L1023.1 695.6 L1023.5 697.6 L1024 699.6 L1024.4 701.6 L1024.9 703.6 L1025.3 705.5 L1025.8 707.4 L1026.3 709.3 L1026.8 711.2 L1027.4 713.1 L1028 715.1 L1028.6 717 L1029.3 718.9 L1029.9 720.7 L1030.6 722.6 L1031.3 724.4 L1032 726.3 L1032.6 728.1 L1033.3 730 L1034 731.9 L1034.6 733.8 L1035.3 735.7 L1035.9 737.7 L1036.5 739.6 L1037.2 741.6 L1037.8 743.6 L1038.5 745.5 L1039.1 747.5 L1039.8 749.4 L1040.4 751.3 L1041.1 753.2 L1041.7 755.2 L1042.4 757.1 L1043.1 759.1 L1043.8 761 L1044.6 763 L1045.3 765 L1046.1 766.9 L1046.9 768.7 L1047.8 770.6 L1048.7 772.4 L1049.7 774.2 L1050.8 775.9 L1051.9 777.7 L1053.1 779.4 L1054.4 781 L1055.7 782.5 L1057.2 783.9 L1058.7 785.2 L1060.3 786.3 L1062 787.3 L1063.8 788.2 L1065.6 789.1 L1067.5 789.8 L1069.4 790.5 L1071.4 791.2 L1073.4 791.8 L1075.4 792.4 L1077.4 792.9 L1079.4 793.4 L1081.5 793.9 L1083.6 794.3 L1085.7 794.7 L1087.7 795.1 L1089.8 795.5 L1091.9 795.9 L1093.9 796.3 L1096 796.8 L1098.1 797.4 L1100.1 798 L1102.2 798.6 L1104.2 799.3 L1106.1 800.1 L1108 801 L1109.7 802 L1111.4 803.2 L1112.9 804.5 L1114.3 805.9 L1115.7 807.5 L1116.9 809.1 L1118.2 810.8 L1119.3 812.5 L1120.4 814.2 L1121.5 815.9 L1122.5 817.6 L1123.5 819.4 L1124.5 821.1 L1125.5 823 L1126.4 824.8 L1127.4 826.7 L1128.4 828.5 L1129.4 830.4 L1130.3 832.2 L1131.3 834.1 L1132.3 835.9 L1133.3 837.8 L1134.3 839.6 L1135.3 841.5 L1136.3 843.4 L1137.4 845.2 L1138.4 846.9 L1139.6 848.6 L1140.7 850.2 L1142 851.8 L1143.4 853.2 L1144.8 854.6 L1146.4 855.9 L1148 857.1 L1149.6 858.3 L1151.3 859.4 L1153 860.4 L1154.8 861.4 L1156.6 862.3 L1158.4 863.3 L1160.3 864.1 L1162.2 865 L1164.1 865.8 L1166 866.6 L1167 867" fill="none" stroke="#7022A2" stroke-width="6.5" stroke-linejoin="round" stroke-linecap="round"/>
<path d="M695 867 L697.1 866.7 L699.2 866.4 L701.1 865.9 L702.8 865.2 L704.1 864.4 L705.1 863.7 L705.9 862.9 L706.7 862 L707.5 861 L708.4 860 L709.2 858.9 L710.1 857.6 L711 856.3 L711.9 855 L712.8 853.6 L713.7 852 L714.7 850.5 L715.6 848.9 L716.6 847.2 L717.6 845.4 L718.6 843.6 L719.6 841.8 L720.6 839.9 L721.6 838 L722.7 836 L723.7 834 L724.7 832 L725.8 829.9 L726.9 827.9 L727.9 825.8 L729 823.6 L730 821.5 L731.1 819.4 L732.2 817.2 L733.2 815 L734.3 812.9 L735.4 810.7 L736.4 808.6 L737.5 806.4 L738.5 804.3 L739.6 802.2 L740.6 800.1 L741.7 798 L742.7 795.9 L743.7 793.9 L744.7 791.9 L745.7 789.9 L746.7 788.1 L747.6 786.2 L748.5 784.5 L749.4 782.8 L750.2 781.1 L751.1 779.4 L751.9 777.6 L752.8 775.9 L753.6 774.2 L754.5 772.4 L755.4 770.7 L756.2 768.9 L757.1 767.1 L757.9 765.3 L758.8 763.6 L759.6 761.8 L760.5 760 L761.3 758.2 L762.2 756.4 L763 754.6 L763.9 752.7 L764.7 750.9 L765.6 749.1 L766.4 747.3 L767.3 745.4 L768.1 743.6 L769 741.7 L769.8 739.9 L770.7 738.1 L771.5 736.2 L772.4 734.4 L773.2 732.5 L774.1 730.6 L774.9 728.8 L775.8 726.9 L776.6 725.1 L777.5 723.2 L778.4 721.4 L779.2 719.5 L780.1 717.7 L780.9 715.8 L781.8 714 L782.7 712.1 L783.5 710.3 L784.4 708.4 L785.3 706.6 L786.1 704.7 L787 702.9 L787.9 701 L788.7 699.2 L789.6 697.4 L790.5 695.6 L791.4 693.7 L792.3 691.9 L793.1 690.1 L794 688.3 L794.9 686.5 L795.8 684.7 L796.7 682.9 L797.6 681 L798.6 679.2 L799.5 677.3 L800.5 675.4 L801.4 673.5 L802.4 671.6 L803.4 669.6 L804.4 667.6 L805.4 665.7 L806.5 663.7 L807.5 661.7 L808.5 659.7 L809.6 657.7 L810.6 655.7 L811.7 653.6 L812.7 651.6 L813.8 649.6 L814.8 647.6 L815.9 645.5 L816.9 643.5 L818 641.5 L819 639.5 L820.1 637.5 L821.1 635.5 L822.2 633.5 L823.2 631.5 L824.3 629.6 L825.3 627.6 L826.3 625.7 L827.3 623.8 L828.3 621.9 L829.3 620 L830.3 618.1 L831.3 616.3 L832.2 614.4 L833.2 612.6 L834.1 610.9 L835 609.1 L835.9 607.4 L836.8 605.7 L837.7 604.1 L838.5 602.5 L839.4 600.9 L840.2 599.3 L841 597.8 L841.7 596.4 L842.5 594.9 L843.2 593.5 L843.9 592.2 L844.6 590.9 L845.2 589.6 L845.9 588.4 L846.5 587.2 L847.2 585.8 L848 584.3 L848.9 582.4 L849.9 580.5 L850.8 578.6 L851.7 576.8 L852.6 575.1 L853.4 573.4 L854.3 571.7 L855.1 569.9 L855.9 568.1 L856.8 566.3 L857.6 564.5 L858.5 562.6 L859.3 560.7 L860.2 558.8 L861.1 556.9 L861.9 555 L862.8 553 L863.6 551.1 L864.5 549.2 L865.3 547.3 L866.1 545.4 L866.9 543.5 L867.8 541.6 L868.6 539.6 L869.4 537.7 L870.2 535.7 L871 533.7 L871.8 531.8 L872.6 529.9 L873.4 528 L874.2 526.2 L875.1 524.3 L875.9 522.5 L876.9 520.6 L877.8 518.8 L878.8 517 L879.7 515.2 L880.7 513.4 L881.7 511.7 L882.7 509.9 L883.7 508 L884.7 506.2 L885.8 504.3 L886.9 502.4 L887.9 500.6 L889 498.8 L890 497 L891.1 495.2 L892.1 493.5 L893.2 491.7 L894.2 490 L895.2 488.2 L896.2 486.4 L897.2 484.6 L898.2 482.7 L899.2 480.8 L900.1 478.9 L901.1 477 L902.1 475.1 L903.1 473.2 L904 471.2 L905 469.3 L906 467.5 L907.1 465.6 L908.2 463.8 L909.5 462.1 L910.9 460.5 L912.3 459 L914 457.7 L915.8 456.6 L917.8 455.8 L919.9 455.2 L922.1 454.8 L924.3 454.7 L926.4 454.9 L928.4 455.4 L930.3 456.1 L932 457.2 L933.5 458.5 L935 460 L936.3 461.5 L937.5 463.1 L938.6 464.7 L939.7 466.3 L940.8 468.1 L941.9 469.9 L942.9 471.8 L944 473.7 L945 475.6 L946 477.4 L946.9 479.3 L947.8 481.1 L948.6 483 L949.4 484.8 L950.1 486.7 L950.9 488.6 L951.6 490.5 L952.3 492.4 L953 494.3 L953.7 496.2 L954.3 498.1 L955 500 L955.6 502 L956.2 503.9 L956.8 505.9 L957.4 507.8 L958 509.8 L958.5 511.8 L959.1 513.7 L959.6 515.7 L960.1 517.6 L960.6 519.6 L961.1 521.5 L961.6 523.5 L962.1 525.4 L962.6 527.4 L963 529.4 L963.5 531.3 L963.9 533.3 L964.4 535.3 L964.8 537.2 L965.2 539 L965.6 540.9 L966 542.8 L966.4 544.7 L966.8 546.6 L967.2 548.6 L967.6 550.6 L968.1 552.7 L968.5 554.7 L968.9 556.7 L969.4 558.6 L969.8 560.5 L970.2 562.3 L970.7 564.1 L971.1 566 L971.6 567.9 L972.1 569.9 L972.5 571.9 L973 573.9 L973.5 575.9 L974 577.9 L974.5 580 L975.1 582.1 L975.6 584.1 L976.1 586.2 L976.6 588.3 L977.1 590.4 L977.6 592.5 L978.1 594.6 L978.6 596.6 L979 598.6 L979.5 600.6 L980 602.6 L980.4 604.6 L980.8 606.5 L981.3 608.5 L981.7 610.4 L982.1 612.4 L982.6 614.4 L983 616.4 L983.4 618.4 L983.8 620.3 L984.3 622.3 L984.7 624.3 L985.1 626.3 L985.6 628.3 L986 630.3 L986.4 632.3 L986.9 634.3 L987.3 636.3 L987.8 638.3 L988.2 640.3 L988.7 642.2 L989.1 644.2 L989.6 646.2 L990.1 648.1 L990.6 650.1 L991.1 652.1 L991.6 654 L992.1 656 L992.6 658 L993.1 660 L993.7 661.9 L994.2 663.9 L994.7 665.9 L995.3 667.8 L995.8 669.8 L996.3 671.8 L996.9 673.7 L997.4 675.7 L997.9 677.6 L998.4 679.6 L998.9 681.5 L999.4 683.4 L999.9 685.3 L1000.4 687.2 L1000.8 689.1 L1001.3 691 L1001.7 692.9 L1002.2 694.9 L1002.6 697 L1003 699 L1003.5 701.1 L1003.9 703.1 L1004.3 705.1 L1004.7 707.1 L1005 709.1 L1005.4 711.1 L1005.8 713.1 L1006.2 715 L1006.5 717 L1006.9 719 L1007.3 721 L1007.6 723 L1008 725 L1008.4 727 L1008.8 729 L1009.2 731 L1009.6 733 L1010 734.9 L1010.4 736.9 L1010.8 738.9 L1011.2 740.9 L1011.6 742.9 L1012 744.9 L1012.4 746.8 L1012.8 748.8 L1013.2 750.8 L1013.7 752.8 L1014.1 754.8 L1014.5 756.9 L1014.9 758.9 L1015.4 760.9 L1015.8 762.9 L1016.2 765 L1016.7 767 L1017.1 769 L1017.5 771 L1017.9 773 L1018.4 775 L1018.8 777 L1019.2 779 L1019.6 781 L1020.1 783 L1020.5 785.1 L1020.9 787.1 L1021.4 789.2 L1021.8 791.2 L1022.3 793.2 L1022.7 795.3 L1023.2 797.3 L1023.6 799.3 L1024.1 801.3 L1024.5 803.3 L1025 805.2 L1025.5 807.2 L1025.9 809.1 L1026.4 811 L1026.9 813 L1027.4 814.9 L1027.9 817 L1028.5 819.1 L1029.1 821.2 L1029.7 823.3 L1030.2 825.4 L1030.8 827.4 L1031.4 829.5 L1032 831.5 L1032.6 833.5 L1033.2 835.4 L1033.8 837.3 L1034.4 839.2 L1035 841 L1035.6 842.8 L1036.2 844.5 L1036.8 846.3 L1037.5 848.2 L1038.3 850.2 L1039.1 852.2 L1039.9 854.2 L1040.7 856.1 L1041.5 857.8 L1042.4 859.5 L1043.4 861.2 L1044.6 862.9 L1045.9 864.5 L1047.3 866.2 L1048 867" fill="none" stroke="#E05A00" stroke-width="6.5" stroke-linejoin="round" stroke-linecap="round"/>
<path d="M640 867 L641.8 866.4 L643.6 865.7 L645.3 864.9 L646.7 864 L647.7 863 L648.5 862.1 L649.1 861.1 L649.6 860 L650.2 858.8 L650.7 857.6 L651.3 856.2 L651.8 854.7 L652.4 853.2 L652.9 851.6 L653.4 849.9 L653.9 848.1 L654.5 846.3 L655 844.3 L655.5 842.4 L656 840.3 L656.5 838.3 L657 836.1 L657.5 834 L658.1 831.8 L658.6 829.5 L659.1 827.2 L659.6 824.9 L660.1 822.6 L660.6 820.3 L661.1 817.9 L661.6 815.6 L662.1 813.2 L662.6 810.8 L663.1 808.5 L663.6 806.1 L664.1 803.8 L664.6 801.4 L665.1 799.1 L665.6 796.9 L666.1 794.6 L666.6 792.4 L667.1 790.3 L667.6 788.2 L668.1 786.2 L668.6 784.3 L669 782.4 L669.5 780.5 L669.9 778.7 L670.4 776.8 L670.8 774.9 L671.3 773 L671.7 771.1 L672.2 769.2 L672.6 767.3 L673 765.4 L673.5 763.5 L673.9 761.5 L674.4 759.6 L674.8 757.6 L675.3 755.7 L675.7 753.7 L676.2 751.7 L676.6 749.7 L677.1 747.8 L677.5 745.8 L678 743.8 L678.4 741.8 L678.8 739.8 L679.3 737.8 L679.7 735.8 L680.2 733.8 L680.6 731.8 L681.1 729.8 L681.5 727.8 L681.9 725.8 L682.4 723.7 L682.8 721.7 L683.3 719.7 L683.7 717.7 L684.1 715.7 L684.6 713.7 L685 711.7 L685.5 709.6 L685.9 707.6 L686.3 705.6 L686.8 703.6 L687.2 701.6 L687.6 699.6 L688.1 697.6 L688.5 695.6 L689 693.6 L689.4 691.6 L689.8 689.6 L690.3 687.7 L690.7 685.7 L691.1 683.7 L691.5 681.7 L692 679.8 L692.4 677.8 L692.8 675.8 L693.3 673.9 L693.7 671.9 L694.2 669.9 L694.6 668 L695 666 L695.5 664 L695.9 662.1 L696.3 660.1 L696.8 658.1 L697.2 656.2 L697.6 654.2 L698.1 652.2 L698.5 650.3 L699 648.3 L699.4 646.3 L699.8 644.4 L700.3 642.4 L700.7 640.4 L701.1 638.5 L701.5 636.5 L702 634.5 L702.4 632.6 L702.8 630.6 L703.3 628.6 L703.7 626.6 L704.1 624.7 L704.5 622.7 L705 620.7 L705.4 618.8 L705.8 616.8 L706.2 614.8 L706.6 612.9 L707 610.9 L707.4 608.9 L707.8 606.9 L708.2 605 L708.6 603 L709 601 L709.4 599.1 L709.8 597.1 L710.2 595.1 L710.6 593.1 L711 591.2 L711.4 589.2 L711.8 587.2 L712.1 585.3 L712.5 583.3 L712.9 581.3 L713.3 579.3 L713.6 577.3 L714 575.3 L714.4 573.3 L714.7 571.2 L715.1 569.2 L715.5 567.1 L715.8 565.1 L716.2 563 L716.6 560.9 L716.9 558.9 L717.3 556.8 L717.6 554.7 L718 552.6 L718.3 550.5 L718.7 548.4 L719 546.3 L719.4 544.3 L719.7 542.2 L720.1 540.1 L720.4 538 L720.8 535.9 L721.1 533.8 L721.4 531.8 L721.8 529.7 L722.1 527.6 L722.4 525.6 L722.7 523.5 L723.1 521.5 L723.4 519.4 L723.7 517.4 L724 515.4 L724.3 513.4 L724.6 511.4 L724.9 509.4 L725.2 507.5 L725.5 505.5 L725.8 503.6 L726.1 501.7 L726.4 499.7 L726.7 497.9 L727 496 L727.2 494.1 L727.5 492.3 L727.8 490.5 L728 488.7 L728.3 486.9 L728.6 485.1 L728.8 483.4 L729.1 481.6 L729.3 479.6 L729.6 477.6 L729.9 475.4 L730.2 473.2 L730.5 471 L730.8 468.8 L731.1 466.6 L731.4 464.4 L731.6 462.3 L731.9 460.2 L732.1 458.1 L732.4 456 L732.6 453.9 L732.9 451.9 L733.1 449.9 L733.3 447.9 L733.5 446 L733.8 444.1 L734 442.2 L734.2 440.3 L734.4 438.4 L734.6 436.6 L734.9 434.8 L735.1 433 L735.3 431.2 L735.5 429.4 L735.8 427.6 L736.1 425.7 L736.3 423.7 L736.6 421.6 L736.9 419.5 L737.2 417.4 L737.6 415.4 L737.9 413.4 L738.2 411.4 L738.5 409.5 L738.8 407.6 L739.1 405.7 L739.4 403.8 L739.7 401.8 L740 399.9 L740.3 397.9 L740.7 395.9 L741 393.9 L741.4 391.9 L741.7 389.9 L742.1 387.8 L742.4 385.8 L742.8 383.8 L743.1 381.7 L743.5 379.7 L743.9 377.7 L744.2 375.6 L744.6 373.6 L745 371.6 L745.3 369.5 L745.7 367.5 L746 365.5 L746.4 363.6 L746.7 361.6 L747.1 359.6 L747.5 357.6 L747.8 355.6 L748.2 353.7 L748.5 351.7 L748.9 349.7 L749.2 347.7 L749.6 345.7 L749.9 343.8 L750.3 341.8 L750.6 339.8 L750.9 337.8 L751.2 335.8 L751.5 333.7 L751.8 331.7 L752.1 329.7 L752.3 327.6 L752.6 325.6 L752.9 323.6 L753.2 321.5 L753.5 319.6 L753.8 317.6 L754.1 315.7 L754.5 313.7 L754.9 311.8 L755.3 309.8 L755.7 307.6 L756.1 305.5 L756.6 303.3 L757.1 301.2 L757.6 299.1 L758.2 297.1 L758.8 295.2 L759.6 293.4 L760.5 291.7 L761.6 289.9 L762.9 288.1 L764.4 286.6 L766 285.4 L767.7 284.7 L769.3 284.7 L771 285.4 L772.6 286.6 L774.1 288.1 L775.4 289.9 L776.6 291.7 L777.5 293.4 L778.2 295.2 L778.9 297.1 L779.5 299.1 L780 301.2 L780.5 303.4 L781 305.5 L781.5 307.7 L781.9 309.8 L782.3 311.9 L782.7 313.8 L783.1 315.8 L783.4 317.7 L783.7 319.6 L784 321.6 L784.3 323.6 L784.6 325.6 L784.9 327.7 L785.1 329.7 L785.4 331.7 L785.7 333.8 L785.9 335.8 L786.2 337.8 L786.5 339.8 L786.8 341.8 L787.1 343.8 L787.4 345.7 L787.7 347.7 L788 349.7 L788.3 351.7 L788.6 353.7 L788.9 355.6 L789.2 357.6 L789.5 359.6 L789.8 361.6 L790.1 363.6 L790.4 365.5 L790.7 367.5 L790.9 369.5 L791.2 371.6 L791.5 373.6 L791.7 375.7 L792 377.7 L792.3 379.8 L792.5 381.8 L792.8 383.9 L793 385.9 L793.3 388 L793.5 390 L793.8 392.1 L794 394.1 L794.3 396.1 L794.5 398.1 L794.8 400.1 L795 402 L795.3 403.9 L795.5 405.8 L795.8 407.7 L796 409.6 L796.2 411.5 L796.5 413.5 L796.7 415.4 L797 417.5 L797.2 419.5 L797.5 421.6 L797.7 423.7 L798 425.7 L798.2 427.6 L798.4 429.4 L798.6 431.2 L798.8 433 L799 434.7 L799.2 436.6 L799.4 438.4 L799.6 440.3 L799.8 442.1 L800 444 L800.2 446 L800.4 447.9 L800.6 449.9 L800.8 451.9 L801 453.9 L801.2 456 L801.4 458 L801.6 460.1 L801.8 462.2 L802.1 464.4 L802.3 466.5 L802.5 468.7 L802.7 470.9 L802.9 473.2 L803.1 475.4 L803.3 477.6 L803.5 479.7 L803.6 481.6 L803.8 483.4 L803.9 485.2 L804.1 487 L804.2 488.8 L804.4 490.6 L804.5 492.4 L804.7 494.3 L804.8 496.1 L804.9 498 L805.1 499.9 L805.2 501.9 L805.4 503.8 L805.5 505.8 L805.6 507.7 L805.8 509.7 L805.9 511.7 L806.1 513.7 L806.2 515.7 L806.3 517.8 L806.5 519.8 L806.6 521.9 L806.8 523.9 L806.9 526 L807 528.1 L807.2 530.2 L807.3 532.3 L807.5 534.4 L807.6 536.5 L807.8 538.6 L807.9 540.7 L808 542.8 L808.2 544.9 L808.3 547 L808.5 549.1 L808.7 551.2 L808.8 553.3 L809 555.4 L809.1 557.5 L809.3 559.6 L809.5 561.7 L809.6 563.8 L809.8 565.9 L810 568 L810.1 570.1 L810.3 572.1 L810.5 574.2 L810.7 576.2 L810.8 578.3 L811 580.3 L811.2 582.3 L811.4 584.3 L811.6 586.3 L811.8 588.3 L812 590.3 L812.2 592.2 L812.4 594.2 L812.6 596.2 L812.8 598.2 L813 600.2 L813.2 602.2 L813.4 604.2 L813.6 606.2 L813.8 608.2 L814 610.2 L814.2 612.1 L814.4 614.1 L814.6 616.1 L814.8 618.1 L815.1 620.1 L815.3 622.1 L815.5 624.1 L815.7 626.1 L815.9 628.1 L816.2 630 L816.4 632 L816.6 634 L816.8 636 L817.1 638 L817.3 640 L817.5 642 L817.8 644 L818 645.9 L818.2 647.9 L818.5 649.9 L818.7 651.9 L818.9 653.9 L819.2 655.9 L819.4 657.9 L819.6 659.9 L819.9 661.9 L820.1 663.8 L820.4 665.8 L820.6 667.8 L820.9 669.8 L821.1 671.8 L821.3 673.8 L821.6 675.8 L821.8 677.7 L822.1 679.7 L822.3 681.7 L822.6 683.7 L822.8 685.7 L823.1 687.7 L823.3 689.7 L823.6 691.7 L823.8 693.7 L824.1 695.7 L824.4 697.7 L824.6 699.8 L824.9 701.8 L825.1 703.8 L825.4 705.8 L825.7 707.9 L825.9 709.9 L826.2 711.9 L826.5 714 L826.8 716 L827 718 L827.3 720.1 L827.6 722.1 L827.8 724.2 L828.1 726.2 L828.4 728.2 L828.7 730.3 L829 732.3 L829.2 734.3 L829.5 736.4 L829.8 738.4 L830.1 740.4 L830.4 742.4 L830.6 744.4 L830.9 746.4 L831.2 748.4 L831.5 750.4 L831.8 752.4 L832 754.4 L832.3 756.4 L832.6 758.4 L832.9 760.3 L833.2 762.3 L833.5 764.3 L833.7 766.2 L834 768.1 L834.3 770.1 L834.6 772 L834.9 773.9 L835.1 775.8 L835.4 777.7 L835.7 779.6 L836 781.4 L836.2 783.3 L836.5 785.2 L836.8 787.2 L837.1 789.3 L837.4 791.5 L837.7 793.7 L838 796 L838.3 798.3 L838.6 800.7 L838.9 803 L839.2 805.4 L839.4 807.8 L839.7 810.2 L840 812.6 L840.2 815 L840.5 817.4 L840.8 819.8 L841.1 822.1 L841.3 824.5 L841.6 826.8 L841.9 829.1 L842.2 831.4 L842.5 833.6 L842.7 835.8 L843 837.9 L843.4 840 L843.7 842.1 L844 844 L844.3 845.9 L844.7 847.8 L845 849.6 L845.4 851.2 L845.7 852.9 L846.1 854.4 L846.5 855.8 L847 857.1 L847.4 858.4 L847.9 859.6 L848.4 860.7 L849.2 861.8 L850.3 863.1 L851.7 864.3 L853.4 865.4 L855.1 866.5 L856 867" fill="none" stroke="#23862A" stroke-width="6.5" stroke-linejoin="round" stroke-linecap="round"/>
<path d="M600 867 L601.9 866.1 L603.8 865.1 L605.6 864.2 L607.5 863.2 L609.4 862.3 L611.3 861.3 L613.1 860.4 L614.9 859.5 L616.8 858.6 L618.7 857.7 L620.7 856.7 L622.6 855.9 L624.6 855 L626.4 854 L628.2 853 L630 852 L631.7 850.8 L633.3 849.7 L634.8 848.4 L636.3 847.1 L637.8 845.7 L639.1 844.1 L640.2 842.6 L641.3 841 L642.2 839.3 L643.1 837.6 L643.9 835.8 L644.7 833.9 L645.4 831.9 L646.1 829.8 L646.7 827.7 L647.3 825.6 L647.8 823.8 L648.2 822.1 L648.6 820.4 L648.9 818.6 L649.2 816.8 L649.5 815 L649.8 813.2 L650.1 811.3 L650.3 809.3 L650.5 807.3 L650.8 805.2 L651 803.2 L651.2 801 L651.4 798.8 L651.6 796.5 L651.9 794.2 L652.1 791.9 L652.3 789.5 L652.6 787.4 L652.8 785.5 L652.9 783.9 L653.1 782.3 L653.2 780.6 L653.4 778.9 L653.6 777.2 L653.7 775.5 L653.9 773.7 L654 771.9 L654.2 770.1 L654.3 768.2 L654.5 766.3 L654.6 764.4 L654.8 762.5 L654.9 760.5 L655.1 758.5 L655.3 756.5 L655.4 754.5 L655.6 752.5 L655.7 750.5 L655.9 748.4 L656 746.3 L656.2 744.2 L656.3 742.1 L656.5 740 L656.6 737.9 L656.8 735.7 L656.9 733.6 L657.1 731.4 L657.2 729.3 L657.4 727.1 L657.5 725 L657.6 722.8 L657.8 720.6 L657.9 718.5 L658.1 716.3 L658.2 714.1 L658.4 712 L658.5 709.8 L658.7 707.7 L658.8 705.5 L658.9 703.4 L659.1 701.3 L659.2 699.2 L659.4 697 L659.5 695 L659.6 692.9 L659.8 690.8 L659.9 688.8 L660.1 686.7 L660.2 684.7 L660.3 682.7 L660.5 680.7 L660.6 678.7 L660.7 676.7 L660.9 674.7 L661 672.7 L661.1 670.6 L661.3 668.6 L661.4 666.6 L661.5 664.6 L661.7 662.6 L661.8 660.6 L661.9 658.6 L662 656.6 L662.2 654.6 L662.3 652.6 L662.4 650.6 L662.5 648.6 L662.7 646.6 L662.8 644.5 L662.9 642.5 L663 640.5 L663.2 638.5 L663.3 636.5 L663.4 634.5 L663.5 632.5 L663.7 630.5 L663.8 628.5 L663.9 626.5 L664 624.5 L664.1 622.5 L664.3 620.4 L664.4 618.4 L664.5 616.4 L664.6 614.4 L664.8 612.4 L664.9 610.4 L665 608.4 L665.1 606.4 L665.2 604.4 L665.4 602.4 L665.5 600.4 L665.6 598.4 L665.7 596.4 L665.9 594.3 L666 592.3 L666.1 590.3 L666.2 588.3 L666.4 586.3 L666.5 584.3 L666.6 582.3 L666.7 580.3 L666.9 578.3 L667 576.2 L667.1 574.2 L667.2 572.1 L667.4 570.1 L667.5 568 L667.6 565.9 L667.7 563.8 L667.9 561.7 L668 559.6 L668.1 557.5 L668.2 555.4 L668.4 553.3 L668.5 551.2 L668.6 549.1 L668.8 547 L668.9 544.9 L669 542.8 L669.1 540.7 L669.3 538.6 L669.4 536.5 L669.5 534.4 L669.6 532.3 L669.8 530.2 L669.9 528.1 L670 526 L670.2 523.9 L670.3 521.9 L670.4 519.8 L670.5 517.8 L670.7 515.7 L670.8 513.7 L670.9 511.7 L671 509.7 L671.2 507.7 L671.3 505.7 L671.4 503.8 L671.5 501.8 L671.7 499.9 L671.8 498 L671.9 496.1 L672 494.2 L672.2 492.4 L672.3 490.6 L672.4 488.7 L672.5 487 L672.6 485.2 L672.8 483.4 L672.9 481.7 L673 479.8 L673.2 477.7 L673.3 475.5 L673.5 473.2 L673.7 471 L673.8 468.9 L674 466.7 L674.2 464.6 L674.3 462.6 L674.5 460.5 L674.7 458.5 L674.8 456.5 L675 454.5 L675.2 452.5 L675.3 450.6 L675.5 448.7 L675.6 446.7 L675.8 444.8 L676 442.9 L676.1 441 L676.3 439.1 L676.4 437.3 L676.6 435.4 L676.7 433.5 L676.9 431.6 L677 429.8 L677.2 427.9 L677.3 425.9 L677.5 423.9 L677.6 421.8 L677.7 419.7 L677.9 417.7 L678 415.7 L678.2 413.6 L678.3 411.6 L678.4 409.6 L678.6 407.6 L678.7 405.6 L678.8 403.7 L679 401.7 L679.1 399.7 L679.2 397.7 L679.4 395.8 L679.5 393.8 L679.6 391.8 L679.7 389.9 L679.9 387.9 L680 385.9 L680.1 383.9 L680.3 381.9 L680.4 379.9 L680.5 377.9 L680.7 375.9 L680.8 373.9 L680.9 371.9 L681.1 369.9 L681.2 367.9 L681.3 365.9 L681.5 363.9 L681.6 361.9 L681.8 359.8 L681.9 357.8 L682 355.8 L682.2 353.8 L682.3 351.8 L682.4 349.8 L682.6 347.8 L682.7 345.8 L682.8 343.8 L683 341.8 L683.1 339.8 L683.2 337.8 L683.4 335.8 L683.5 333.8 L683.6 331.8 L683.8 329.8 L683.9 327.8 L684 325.8 L684.2 323.8 L684.3 321.8 L684.5 319.8 L684.6 317.7 L684.7 315.7 L684.9 313.7 L685 311.7 L685.1 309.7 L685.3 307.7 L685.4 305.7 L685.5 303.7 L685.7 301.7 L685.8 299.7 L685.9 297.7 L686.1 295.7 L686.2 293.7 L686.3 291.7 L686.5 289.7 L686.6 287.7 L686.7 285.7 L686.9 283.7 L687 281.7 L687.1 279.7 L687.2 277.7 L687.4 275.7 L687.5 273.6 L687.6 271.6 L687.8 269.6 L687.9 267.6 L688 265.6 L688.1 263.6 L688.3 261.6 L688.4 259.6 L688.5 257.6 L688.7 255.6 L688.8 253.6 L688.9 251.6 L689.1 249.6 L689.2 247.6 L689.3 245.5 L689.5 243.5 L689.6 241.5 L689.7 239.4 L689.9 237.4 L690 235.4 L690.1 233.3 L690.3 231.3 L690.4 229.3 L690.5 227.3 L690.7 225.2 L690.8 223.2 L690.9 221.3 L691.1 219.3 L691.2 217.3 L691.3 215.3 L691.5 213.4 L691.6 211.4 L691.8 209.4 L691.9 207.4 L692.1 205.3 L692.2 203.3 L692.4 201.2 L692.5 199.2 L692.6 197.1 L692.8 195.1 L692.9 193.1 L693.1 191.1 L693.2 189.1 L693.4 187.1 L693.6 185.2 L693.7 183.2 L693.9 181.3 L694.1 179.4 L694.3 177.4 L694.5 175.5 L694.7 173.5 L694.9 171.4 L695.2 169.3 L695.4 167.2 L695.6 165.1 L695.9 163.1 L696.1 161 L696.4 159 L696.7 157 L697 155 L697.3 153.1 L697.6 151.2 L698 149.4 L698.5 147.6 L699 145.7 L699.6 143.5 L700.4 141.1 L701.2 138.6 L702.1 136.3 L703 134.2 L703.9 132.4 L704.8 131.1 L705.7 130.5 L706.5 130.5 L707.4 131.1 L708.3 132.4 L709.2 134.2 L710.1 136.3 L710.9 138.6 L711.7 141.1 L712.5 143.5 L713.1 145.7 L713.6 147.6 L714.1 149.4 L714.5 151.2 L714.8 153.1 L715.2 155 L715.5 157 L715.8 159 L716 161 L716.3 163.1 L716.5 165.1 L716.8 167.2 L717 169.3 L717.2 171.4 L717.5 173.5 L717.7 175.5 L717.9 177.4 L718.1 179.4 L718.3 181.3 L718.5 183.2 L718.6 185.2 L718.8 187.1 L718.9 189.1 L719.1 191.1 L719.2 193.1 L719.4 195.1 L719.5 197.1 L719.6 199.2 L719.8 201.2 L719.9 203.3 L720 205.3 L720.2 207.4 L720.3 209.4 L720.5 211.4 L720.6 213.4 L720.7 215.3 L720.9 217.3 L721 219.3 L721.2 221.3 L721.3 223.2 L721.4 225.2 L721.6 227.3 L721.7 229.3 L721.8 231.3 L722 233.3 L722.1 235.4 L722.2 237.4 L722.4 239.4 L722.5 241.5 L722.6 243.5 L722.8 245.5 L722.9 247.6 L723 249.6 L723.2 251.6 L723.3 253.6 L723.4 255.6 L723.6 257.6 L723.7 259.6 L723.8 261.6 L724 263.6 L724.1 265.6 L724.2 267.6 L724.4 269.6 L724.5 271.6 L724.7 273.6 L724.8 275.7 L724.9 277.7 L725.1 279.7 L725.2 281.7 L725.3 283.7 L725.5 285.7 L725.6 287.7 L725.7 289.7 L725.9 291.7 L726 293.7 L726.1 295.7 L726.3 297.7 L726.4 299.7 L726.5 301.7 L726.7 303.7 L726.8 305.7 L726.9 307.7 L727 309.7 L727.2 311.7 L727.3 313.7 L727.4 315.7 L727.5 317.8 L727.7 319.8 L727.8 321.8 L727.9 323.8 L728 325.8 L728.2 327.8 L728.3 329.8 L728.4 331.8 L728.6 333.8 L728.7 335.8 L728.9 337.8 L729 339.8 L729.2 341.8 L729.3 343.8 L729.5 345.8 L729.6 347.8 L729.8 349.8 L729.9 351.8 L730.1 353.8 L730.3 355.8 L730.5 357.8 L730.6 359.8 L730.8 361.9 L731 363.9 L731.1 365.9 L731.3 367.9 L731.5 369.9 L731.7 371.9 L731.8 373.9 L732 375.9 L732.2 377.9 L732.3 379.9 L732.5 381.9 L732.7 383.9 L732.8 385.9 L733 387.9 L733.2 389.9 L733.3 391.8 L733.5 393.8 L733.6 395.8 L733.8 397.7 L734 399.7 L734.1 401.7 L734.3 403.7 L734.4 405.6 L734.6 407.6 L734.8 409.6 L734.9 411.6 L735.1 413.6 L735.3 415.7 L735.4 417.7 L735.6 419.7 L735.8 421.8 L736 423.9 L736.2 425.9 L736.4 427.9 L736.6 429.8 L736.8 431.6 L737 433.5 L737.2 435.4 L737.4 437.3 L737.6 439.1 L737.8 441 L738 442.9 L738.3 444.8 L738.5 446.7 L738.7 448.6 L738.9 450.6 L739.2 452.5 L739.4 454.5 L739.6 456.5 L739.8 458.5 L740.1 460.5 L740.3 462.6 L740.5 464.6 L740.7 466.7 L741 468.9 L741.2 471 L741.4 473.2 L741.6 475.5 L741.8 477.7 L742 479.8 L742.1 481.7 L742.3 483.4 L742.4 485.2 L742.6 487 L742.7 488.7 L742.8 490.6 L743 492.4 L743.1 494.2 L743.2 496.1 L743.4 498 L743.5 499.9 L743.6 501.8 L743.7 503.8 L743.9 505.7 L744 507.7 L744.1 509.7 L744.2 511.7 L744.4 513.7 L744.5 515.7 L744.6 517.8 L744.7 519.8 L744.9 521.9 L745 523.9 L745.1 526 L745.2 528.1 L745.3 530.2 L745.5 532.3 L745.6 534.3 L745.7 536.5 L745.8 538.6 L745.9 540.7 L746.1 542.8 L746.2 544.9 L746.3 547 L746.4 549.1 L746.6 551.2 L746.7 553.3 L746.8 555.4 L746.9 557.5 L747.1 559.6 L747.2 561.7 L747.3 563.8 L747.4 565.9 L747.6 568 L747.7 570.1 L747.8 572.1 L748 574.2 L748.1 576.2 L748.2 578.3 L748.4 580.3 L748.5 582.3 L748.6 584.3 L748.8 586.3 L748.9 588.3 L749.1 590.3 L749.2 592.3 L749.3 594.3 L749.5 596.4 L749.6 598.4 L749.8 600.4 L749.9 602.4 L750.1 604.4 L750.2 606.4 L750.3 608.4 L750.5 610.4 L750.6 612.4 L750.8 614.4 L750.9 616.4 L751.1 618.4 L751.2 620.5 L751.4 622.5 L751.5 624.5 L751.7 626.5 L751.8 628.5 L752 630.5 L752.1 632.5 L752.3 634.5 L752.4 636.5 L752.6 638.5 L752.7 640.5 L752.9 642.5 L753 644.5 L753.2 646.6 L753.3 648.6 L753.5 650.6 L753.7 652.6 L753.8 654.6 L754 656.6 L754.1 658.6 L754.3 660.6 L754.4 662.6 L754.6 664.6 L754.8 666.6 L754.9 668.6 L755.1 670.7 L755.2 672.7 L755.4 674.7 L755.6 676.7 L755.7 678.7 L755.9 680.7 L756 682.7 L756.2 684.7 L756.4 686.7 L756.5 688.8 L756.7 690.8 L756.9 692.9 L757 695 L757.2 697 L757.3 699.2 L757.5 701.3 L757.7 703.4 L757.8 705.5 L758 707.7 L758.2 709.8 L758.3 712 L758.5 714.1 L758.7 716.3 L758.8 718.5 L759 720.6 L759.2 722.8 L759.3 725 L759.5 727.1 L759.7 729.3 L759.9 731.4 L760 733.6 L760.2 735.7 L760.4 737.9 L760.5 740 L760.7 742.1 L760.9 744.2 L761.1 746.3 L761.2 748.4 L761.4 750.5 L761.6 752.5 L761.8 754.5 L762 756.6 L762.1 758.6 L762.3 760.5 L762.5 762.5 L762.7 764.4 L762.9 766.3 L763 768.2 L763.2 770.1 L763.4 771.9 L763.6 773.7 L763.8 775.5 L764 777.2 L764.1 778.9 L764.3 780.6 L764.5 782.3 L764.7 783.9 L764.9 785.5 L765.1 787.4 L765.4 789.5 L765.7 791.9 L766 794.2 L766.2 796.5 L766.5 798.8 L766.7 801 L767 803.1 L767.3 805.2 L767.5 807.2 L767.8 809.2 L768.1 811.1 L768.4 813 L768.8 814.9 L769.1 816.7 L769.5 818.5 L770 820.3 L770.4 822 L771 823.7 L771.6 825.6 L772.3 827.5 L773 829.5 L773.8 831.5 L774.7 833.4 L775.5 835.3 L776.5 837 L777.5 838.8 L778.5 840.4 L779.7 842 L781 843.6 L782.3 845 L783.7 846.4 L785.2 847.6 L786.8 848.7 L788.5 849.8 L790.3 850.9 L792.2 851.8 L794.1 852.7 L796 853.6 L798 854.5 L800 855.3 L802 856 L803.9 856.8 L805.8 857.5 L807.7 858.3 L809.6 859 L811.6 859.7 L813.5 860.4 L815.5 861.1 L817.4 861.7 L819.4 862.3 L821.3 862.9 L823.3 863.4 L825.2 863.9 L827.1 864.4 L829.1 864.8 L831 865.2 L833 865.5 L835 865.8 L837 866 L839 866.2 L841 866.3 L843 866.5 L845 866.6 L847 866.7 L849 866.9 L850 867" fill="none" stroke="#FFFF00" stroke-width="6.5" stroke-linejoin="round" stroke-linecap="round"/>
<polygon points="681,456.7 735.3,400.2 735.3,428.8 852,428.8 852,485.4 735.3,485.4 735.3,513.5" fill="#1B72CC" stroke="#1A5FA8" stroke-width="1.5"/>
<polygon points="1025.4,573.6 1078,519 1078,548.6 1175.2,548.6 1175.2,601 1078,601 1078,628" fill="#1B72CC" stroke="#1A5FA8" stroke-width="1.5"/>
<line x1="1394.5" y1="114.6" x2="1465.5" y2="114.6" stroke="#000000" stroke-width="8" stroke-linecap="round"/>
<text transform="translate(1474 132.1) scale(0.9 1)" font-size="49.5" text-anchor="start" fill="#000">G0</text>
<line x1="1394.5" y1="186.05" x2="1465.5" y2="186.05" stroke="#002A62" stroke-width="8" stroke-linecap="round"/>
<text transform="translate(1474 203.55) scale(0.9 1)" font-size="49.5" text-anchor="start" fill="#000">G1</text>
<line x1="1394.5" y1="257.5" x2="1465.5" y2="257.5" stroke="#00B0F0" stroke-width="8" stroke-linecap="round"/>
<text transform="translate(1474 275) scale(0.9 1)" font-size="49.5" text-anchor="start" fill="#000">G2</text>
<line x1="1394.5" y1="328.95" x2="1465.5" y2="328.95" stroke="#7022A2" stroke-width="8" stroke-linecap="round"/>
<text transform="translate(1474 346.45) scale(0.9 1)" font-size="49.5" text-anchor="start" fill="#000">G4</text>
<line x1="1394.5" y1="400.4" x2="1465.5" y2="400.4" stroke="#E05A00" stroke-width="8" stroke-linecap="round"/>
<text transform="translate(1474 417.9) scale(0.9 1)" font-size="49.5" text-anchor="start" fill="#000">G6</text>
<line x1="1394.5" y1="471.85" x2="1465.5" y2="471.85" stroke="#23862A" stroke-width="8" stroke-linecap="round"/>
<text transform="translate(1474 489.35) scale(0.9 1)" font-size="49.5" text-anchor="start" fill="#000">G8</text>
<line x1="1394.5" y1="543.3" x2="1465.5" y2="543.3" stroke="#FFFF00" stroke-width="8" stroke-linecap="round"/>
<text transform="translate(1474 560.8) scale(0.9 1)" font-size="49.5" text-anchor="start" fill="#000">G16</text>
<text transform="translate(234 884.2) scale(0.95 1)" font-size="50" text-anchor="end" fill="#000">0</text>
<text transform="translate(234 802.3) scale(0.95 1)" font-size="50" text-anchor="end" fill="#000">10</text>
<text transform="translate(234 720.4) scale(0.95 1)" font-size="50" text-anchor="end" fill="#000">20</text>
<text transform="translate(234 638.5) scale(0.95 1)" font-size="50" text-anchor="end" fill="#000">30</text>
<text transform="translate(234 556.6) scale(0.95 1)" font-size="50" text-anchor="end" fill="#000">40</text>
<text transform="translate(234 474.7) scale(0.95 1)" font-size="50" text-anchor="end" fill="#000">50</text>
<text transform="translate(234 392.8) scale(0.95 1)" font-size="50" text-anchor="end" fill="#000">60</text>
<text transform="translate(234 310.9) scale(0.95 1)" font-size="50" text-anchor="end" fill="#000">70</text>
<text transform="translate(234 229) scale(0.95 1)" font-size="50" text-anchor="end" fill="#000">80</text>
<text transform="translate(234 147.1) scale(0.95 1)" font-size="50" text-anchor="end" fill="#000">90</text>
<text transform="translate(234 65.2) scale(0.95 1)" font-size="50" text-anchor="end" fill="#000">100</text>
<text transform="translate(282.4 954.5) scale(0.95 1)" font-size="50" text-anchor="middle" fill="#000">0</text>
<text transform="translate(411.35 954.5) scale(0.95 1)" font-size="50" text-anchor="middle" fill="#000">50</text>
<text transform="translate(540.3 954.5) scale(0.95 1)" font-size="50" text-anchor="middle" fill="#000">100</text>
<text transform="translate(669.25 954.5) scale(0.95 1)" font-size="50" text-anchor="middle" fill="#000">150</text>
<text transform="translate(798.2 954.5) scale(0.95 1)" font-size="50" text-anchor="middle" fill="#000">200</text>
<text transform="translate(927.15 954.5) scale(0.95 1)" font-size="50" text-anchor="middle" fill="#000">250</text>
<text transform="translate(1056.1 954.5) scale(0.95 1)" font-size="50" text-anchor="middle" fill="#000">300</text>
<text transform="translate(1185.05 954.5) scale(0.95 1)" font-size="50" text-anchor="middle" fill="#000">350</text>
<text transform="translate(1314 954.5) scale(0.95 1)" font-size="50" text-anchor="middle" fill="#000">400</text>
<text transform="translate(1442.95 954.5) scale(0.95 1)" font-size="50" text-anchor="middle" fill="#000">450</text>
<text transform="translate(1571.9 954.5) scale(0.95 1)" font-size="50" text-anchor="middle" fill="#000">500</text>
<text x="926.8" y="1039.7" font-size="53" text-anchor="middle" fill="#000" textLength="670" lengthAdjust="spacingAndGlyphs">Diameter particles size (nm)</text>
<text x="85" y="413.5" font-size="53" text-anchor="middle" fill="#000" textLength="287" lengthAdjust="spacingAndGlyphs" transform="rotate(-90 85 413.5)">Volume (%)</text>
<text x="346" y="74.8" font-size="44" text-anchor="start" fill="#000" textLength="33.5" lengthAdjust="spacingAndGlyphs">a)</text>
<line x1="259.9" y1="1098.1" x2="259.9" y2="1967.75" stroke="#000" stroke-width="3.5" stroke-linecap="butt"/>
<line x1="258.15" y1="1966" x2="1626.46" y2="1966" stroke="#000" stroke-width="3.5" stroke-linecap="butt"/>
<line x1="259.9" y1="1966" x2="276.4" y2="1966" stroke="#000" stroke-width="3.5" stroke-linecap="butt"/>
<line x1="259.9" y1="1821.35" x2="276.4" y2="1821.35" stroke="#000" stroke-width="3.5" stroke-linecap="butt"/>
<line x1="259.9" y1="1676.7" x2="276.4" y2="1676.7" stroke="#000" stroke-width="3.5" stroke-linecap="butt"/>
<line x1="259.9" y1="1532.05" x2="276.4" y2="1532.05" stroke="#000" stroke-width="3.5" stroke-linecap="butt"/>
<line x1="259.9" y1="1387.4" x2="276.4" y2="1387.4" stroke="#000" stroke-width="3.5" stroke-linecap="butt"/>
<line x1="259.9" y1="1242.75" x2="276.4" y2="1242.75" stroke="#000" stroke-width="3.5" stroke-linecap="butt"/>
<line x1="259.9" y1="1098.1" x2="276.4" y2="1098.1" stroke="#000" stroke-width="3.5" stroke-linecap="butt"/>
<line x1="563.58" y1="1966" x2="563.58" y2="1952" stroke="#000" stroke-width="3.5" stroke-linecap="butt"/>
<line x1="867.26" y1="1966" x2="867.26" y2="1952" stroke="#000" stroke-width="3.5" stroke-linecap="butt"/>
<line x1="1170.94" y1="1966" x2="1170.94" y2="1952" stroke="#000" stroke-width="3.5" stroke-linecap="butt"/>
<line x1="1474.62" y1="1966" x2="1474.62" y2="1952" stroke="#000" stroke-width="3.5" stroke-linecap="butt"/>
<text transform="translate(210 1982.8) scale(0.95 1)" font-size="49" text-anchor="end" fill="#000">100</text>
<text transform="translate(210 1838.15) scale(0.95 1)" font-size="49" text-anchor="end" fill="#000">150</text>
<text transform="translate(210 1693.5) scale(0.95 1)" font-size="49" text-anchor="end" fill="#000">200</text>
<text transform="translate(210 1548.85) scale(0.95 1)" font-size="49" text-anchor="end" fill="#000">250</text>
<text transform="translate(210 1404.2) scale(0.95 1)" font-size="49" text-anchor="end" fill="#000">300</text>
<text transform="translate(210 1259.55) scale(0.95 1)" font-size="49" text-anchor="end" fill="#000">350</text>
<text transform="translate(210 1114.9) scale(0.95 1)" font-size="49" text-anchor="end" fill="#000">400</text>
<text transform="translate(259.9 2055) scale(0.95 1)" font-size="49" text-anchor="middle" fill="#000">0</text>
<text transform="translate(563.58 2055) scale(0.95 1)" font-size="49" text-anchor="middle" fill="#000">4</text>
<text transform="translate(867.26 2055) scale(0.95 1)" font-size="49" text-anchor="middle" fill="#000">8</text>
<text transform="translate(1170.94 2055) scale(0.95 1)" font-size="49" text-anchor="middle" fill="#000">12</text>
<text transform="translate(1474.62 2055) scale(0.95 1)" font-size="49" text-anchor="middle" fill="#000">16</text>
<text x="901.2" y="2123.2" font-size="53" text-anchor="middle" fill="#000" textLength="454" lengthAdjust="spacingAndGlyphs">Treatment time (h)</text>
<text x="75.5" y="1571.6" font-size="53" text-anchor="middle" fill="#000" textLength="823" lengthAdjust="spacingAndGlyphs" transform="rotate(-90 75.5 1571.6)">Median diameter particle size (nm)</text>
<text x="306.5" y="1149.5" font-size="44" text-anchor="start" fill="#000" textLength="35" lengthAdjust="spacingAndGlyphs">b)</text>
<line x1="259.9" y1="1342.96" x2="1467.03" y2="1863.53" stroke="#0070C0" stroke-width="5.5" stroke-linecap="round" stroke-dasharray="10 12.2" stroke-dashoffset="12.75"/>
<line x1="259.9" y1="1228.6" x2="259.9" y2="1302.3" stroke="#0070C0" stroke-width="4" stroke-linecap="butt"/>
<line x1="251.4" y1="1228.6" x2="268.4" y2="1228.6" stroke="#0070C0" stroke-width="4.5" stroke-linecap="butt"/>
<line x1="251.4" y1="1302.3" x2="268.4" y2="1302.3" stroke="#0070C0" stroke-width="4.5" stroke-linecap="butt"/>
<rect x="243.4" y="1249.5" width="33" height="33" rx="2" fill="#0070C0"/>
<line x1="335.82" y1="1293.3" x2="335.82" y2="1355" stroke="#0070C0" stroke-width="4" stroke-linecap="butt"/>
<line x1="327.32" y1="1293.3" x2="344.32" y2="1293.3" stroke="#0070C0" stroke-width="4.5" stroke-linecap="butt"/>
<line x1="327.32" y1="1355" x2="344.32" y2="1355" stroke="#0070C0" stroke-width="4.5" stroke-linecap="butt"/>
<rect x="319.32" y="1307.5" width="33" height="33" rx="2" fill="#0070C0"/>
<line x1="411.74" y1="1373" x2="411.74" y2="1430.2" stroke="#0070C0" stroke-width="4" stroke-linecap="butt"/>
<line x1="403.24" y1="1373" x2="420.24" y2="1373" stroke="#0070C0" stroke-width="4.5" stroke-linecap="butt"/>
<line x1="403.24" y1="1430.2" x2="420.24" y2="1430.2" stroke="#0070C0" stroke-width="4.5" stroke-linecap="butt"/>
<rect x="395.24" y="1383.5" width="33" height="33" rx="2" fill="#0070C0"/>
<line x1="563.58" y1="1490.4" x2="563.58" y2="1544.6" stroke="#0070C0" stroke-width="4" stroke-linecap="butt"/>
<line x1="555.08" y1="1490.4" x2="572.08" y2="1490.4" stroke="#0070C0" stroke-width="4.5" stroke-linecap="butt"/>
<line x1="555.08" y1="1544.6" x2="572.08" y2="1544.6" stroke="#0070C0" stroke-width="4.5" stroke-linecap="butt"/>
<rect x="547.08" y="1501.5" width="33" height="33" rx="2" fill="#0070C0"/>
<line x1="715.42" y1="1594.7" x2="715.42" y2="1642.8" stroke="#0070C0" stroke-width="4" stroke-linecap="butt"/>
<line x1="706.92" y1="1594.7" x2="723.92" y2="1594.7" stroke="#0070C0" stroke-width="4.5" stroke-linecap="butt"/>
<line x1="706.92" y1="1642.8" x2="723.92" y2="1642.8" stroke="#0070C0" stroke-width="4.5" stroke-linecap="butt"/>
<rect x="698.92" y="1602.2" width="33" height="33" rx="2" fill="#0070C0"/>
<line x1="867.26" y1="1682.7" x2="867.26" y2="1727.2" stroke="#0070C0" stroke-width="4" stroke-linecap="butt"/>
<line x1="858.76" y1="1682.7" x2="875.76" y2="1682.7" stroke="#0070C0" stroke-width="4.5" stroke-linecap="butt"/>
<line x1="858.76" y1="1727.2" x2="875.76" y2="1727.2" stroke="#0070C0" stroke-width="4.5" stroke-linecap="butt"/>
<rect x="850.76" y="1689.3" width="33" height="33" rx="2" fill="#0070C0"/>
<line x1="1474.62" y1="1756.7" x2="1474.62" y2="1804.1" stroke="#0070C0" stroke-width="4" stroke-linecap="butt"/>
<line x1="1466.12" y1="1756.7" x2="1483.12" y2="1756.7" stroke="#0070C0" stroke-width="4.5" stroke-linecap="butt"/>
<line x1="1466.12" y1="1804.1" x2="1483.12" y2="1804.1" stroke="#0070C0" stroke-width="4.5" stroke-linecap="butt"/>
<rect x="1458.12" y="1764.5" width="33" height="33" rx="2" fill="#0070C0"/>
<text x="999" y="1498.8" font-size="35" text-anchor="middle" fill="#0A84CF" textLength="318" lengthAdjust="spacingAndGlyphs" font-weight="bold">y = -11.317x + 315.36</text>
<text x="999.5" y="1544.8" font-size="35" text-anchor="middle" fill="#0A84CF" textLength="166" lengthAdjust="spacingAndGlyphs" font-weight="bold">R<tspan font-size="21" dy="-13">2</tspan><tspan dy="13"> = 0.8497</tspan></text>
<line x1="250.2" y1="2252" x2="250.2" y2="2986.15" stroke="#000" stroke-width="3.5" stroke-linecap="butt"/>
<line x1="248.45" y1="2984.4" x2="1584.27" y2="2984.4" stroke="#000" stroke-width="3.5" stroke-linecap="butt"/>
<line x1="250.2" y1="2984.4" x2="267.2" y2="2984.4" stroke="#000" stroke-width="3.5" stroke-linecap="butt"/>
<line x1="250.2" y1="2839.54" x2="267.2" y2="2839.54" stroke="#000" stroke-width="3.5" stroke-linecap="butt"/>
<line x1="250.2" y1="2694.68" x2="267.2" y2="2694.68" stroke="#000" stroke-width="3.5" stroke-linecap="butt"/>
<line x1="250.2" y1="2549.82" x2="267.2" y2="2549.82" stroke="#000" stroke-width="3.5" stroke-linecap="butt"/>
<line x1="250.2" y1="2404.96" x2="267.2" y2="2404.96" stroke="#000" stroke-width="3.5" stroke-linecap="butt"/>
<line x1="250.2" y1="2260.1" x2="267.2" y2="2260.1" stroke="#000" stroke-width="3.5" stroke-linecap="butt"/>
<line x1="546.66" y1="2984.4" x2="546.66" y2="2968.4" stroke="#000" stroke-width="3.5" stroke-linecap="butt"/>
<line x1="843.12" y1="2984.4" x2="843.12" y2="2968.4" stroke="#000" stroke-width="3.5" stroke-linecap="butt"/>
<line x1="1139.58" y1="2984.4" x2="1139.58" y2="2968.4" stroke="#000" stroke-width="3.5" stroke-linecap="butt"/>
<line x1="1436.04" y1="2984.4" x2="1436.04" y2="2968.4" stroke="#000" stroke-width="3.5" stroke-linecap="butt"/>
<text transform="translate(201 3001.6) scale(0.95 1)" font-size="49" text-anchor="end" fill="#000">0</text>
<text transform="translate(201 2856.74) scale(0.95 1)" font-size="49" text-anchor="end" fill="#000">20</text>
<text transform="translate(201 2711.88) scale(0.95 1)" font-size="49" text-anchor="end" fill="#000">40</text>
<text transform="translate(201 2567.02) scale(0.95 1)" font-size="49" text-anchor="end" fill="#000">60</text>
<text transform="translate(201 2422.16) scale(0.95 1)" font-size="49" text-anchor="end" fill="#000">80</text>
<text transform="translate(201 2277.3) scale(0.95 1)" font-size="49" text-anchor="end" fill="#000">100</text>
<text transform="translate(250.2 3072.5) scale(0.95 1)" font-size="49" text-anchor="middle" fill="#000">0</text>
<text transform="translate(546.66 3072.5) scale(0.95 1)" font-size="49" text-anchor="middle" fill="#000">200</text>
<text transform="translate(843.12 3072.5) scale(0.95 1)" font-size="49" text-anchor="middle" fill="#000">400</text>
<text transform="translate(1139.58 3072.5) scale(0.95 1)" font-size="49" text-anchor="middle" fill="#000">600</text>
<text transform="translate(1436.04 3072.5) scale(0.95 1)" font-size="49" text-anchor="middle" fill="#000">800</text>
<text x="917" y="3155.8" font-size="53" text-anchor="middle" fill="#000" textLength="413" lengthAdjust="spacingAndGlyphs">Temperature (°C)</text>
<text x="68" y="2617.5" font-size="53" text-anchor="middle" fill="#000" textLength="271.5" lengthAdjust="spacingAndGlyphs" transform="rotate(-90 68 2617.5)">Weight (%)</text>
<text x="305.5" y="2341" font-size="43" text-anchor="start" fill="#000" textLength="32" lengthAdjust="spacingAndGlyphs">c)</text>
<path d="M322 2260.5 C411.33 2261.03 494.09 2261.4 590 2262.1 C701.16 2262.91 835.47 2264.29 950 2265.2 C1054.55 2266.03 1148.15 2266.66 1250 2267.4 C1355.68 2268.16 1465.33 2268.93 1573 2269.7" fill="none" stroke="#000" stroke-width="8.5" stroke-linejoin="round" stroke-linecap="round"/>
<path d="M322 2260.5 L325.9 2261.2 L329.8 2262 L333.7 2262.8 L337.7 2263.7 L341.6 2264.6 L345.5 2265.5 L349.4 2266.5 L353.3 2267.5 L357.3 2268.5 L361.2 2269.6 L365.1 2270.7 L369 2271.8 L373 2272.9 L376.9 2274 L380.8 2275.1 L384.8 2276.3 L388.7 2277.4 L392.6 2278.5 L396.6 2279.6 L400.5 2280.7 L404.4 2281.7 L408.4 2282.7 L412.3 2283.6 L416.2 2284.6 L420.2 2285.5 L424.1 2286.4 L428.1 2287.3 L432 2288.1 L435.9 2289 L439.9 2289.8 L443.8 2290.6 L447.8 2291.4 L451.7 2292.1 L455.7 2292.8 L459.6 2293.5 L463.6 2294.2 L467.5 2294.9 L471.5 2295.5 L475.4 2296.1 L479.3 2296.7 L483.3 2297.3 L487.2 2297.9 L491.2 2298.5 L495.1 2299.1 L499.1 2299.7 L503 2300.2 L507 2300.8 L510.9 2301.3 L514.9 2301.9 L518.8 2302.4 L522.8 2303 L526.7 2303.6 L530.7 2304.2 L534.7 2304.7 L538.6 2305.3 L542.6 2305.9 L546.5 2306.5 L550.5 2307.2 L554.4 2307.8 L558.4 2308.5 L562.3 2309.2 L566.3 2309.9 L570.2 2310.6 L574.2 2311.3 L578.1 2312.1 L582.1 2312.8 L586 2313.6 L590 2314.4 L593.9 2315.2 L597.9 2316 L601.8 2316.9 L605.8 2317.7 L609.7 2318.5 L613.7 2319.4 L617.6 2320.3 L621.6 2321.1 L625.6 2322 L629.5 2322.9 L633.5 2323.8 L637.4 2324.6 L641.4 2325.5 L645.3 2326.4 L649.3 2327.3 L653.2 2328.2 L657.2 2329 L661.1 2329.9 L665.1 2330.8 L669 2331.7 L673 2332.5 L676.9 2333.4 L680.9 2334.2 L684.8 2335 L688.8 2335.9 L692.7 2336.7 L696.7 2337.5 L700.6 2338.3 L704.6 2339.1 L708.5 2339.9 L712.5 2340.7 L716.4 2341.5 L720.4 2342.2 L724.3 2343 L728.3 2343.8 L732.2 2344.6 L736.1 2345.4 L740.1 2346.2 L744 2347 L748 2347.7 L751.9 2348.5 L755.9 2349.3 L759.8 2350.1 L763.8 2351 L767.7 2351.8 L771.7 2352.6 L775.6 2353.4 L779.6 2354.3 L783.5 2355.1 L787.4 2356 L791.4 2356.8 L795.3 2357.7 L799.3 2358.5 L803.2 2359.4 L807.2 2360.2 L811.1 2361.1 L815 2362 L819 2362.9 L822.9 2363.7 L826.9 2364.6 L830.8 2365.5 L834.8 2366.3 L838.7 2367.2 L842.6 2368.1 L846.6 2368.9 L850.5 2369.8 L854.4 2370.7 L858.4 2371.5 L862.3 2372.4 L866.3 2373.2 L870.2 2374.1 L874.1 2374.9 L878.1 2375.8 L882 2376.6 L885.9 2377.5 L889.9 2378.3 L893.8 2379.1 L897.7 2379.9 L901.7 2380.7 L905.6 2381.5 L909.5 2382.4 L913.5 2383.2 L917.4 2383.9 L921.3 2384.7 L925.3 2385.5 L929.2 2386.3 L933.1 2387.1 L937.1 2387.9 L941 2388.6 L944.9 2389.4 L948.9 2390.2 L952.8 2390.9 L956.7 2391.7 L960.6 2392.4 L964.6 2393.2 L968.5 2393.9 L972.4 2394.7 L976.3 2395.4 L980.3 2396.1 L984.2 2396.9 L988.1 2397.6 L992 2398.3 L996 2399 L999.9 2399.7 L1003.8 2400.5 L1007.7 2401.2 L1011.6 2401.9 L1015.6 2402.6 L1019.5 2403.3 L1023.4 2404 L1027.3 2404.8 L1031.2 2405.5 L1035.2 2406.3 L1039.1 2407 L1043 2407.8 L1046.9 2408.6 L1050.8 2409.4 L1054.7 2410.2 L1058.6 2411 L1062.6 2411.9 L1066.5 2412.8 L1070.4 2413.7 L1074.3 2414.6 L1078.2 2415.5 L1082.1 2416.5 L1086 2417.5 L1089.9 2418.5 L1093.9 2419.5 L1097.8 2420.5 L1101.7 2421.5 L1105.6 2422.5 L1109.5 2423.6 L1113.4 2424.7 L1117.3 2425.7 L1121.2 2426.8 L1125.1 2427.9 L1129 2429 L1132.9 2430.1 L1136.8 2431.2 L1140.7 2432.3 L1144.6 2433.4 L1148.5 2434.6 L1152.4 2435.7 L1156.3 2436.8 L1160.2 2437.9 L1164.1 2439.1 L1168 2440.2 L1171.9 2441.3 L1175.8 2442.5 L1179.7 2443.6 L1183.6 2444.7 L1187.5 2445.8 L1191.4 2447 L1195.3 2448.1 L1199.2 2449.2 L1203.1 2450.3 L1207 2451.4 L1210.9 2452.5 L1214.8 2453.6 L1218.7 2454.7 L1222.6 2455.8 L1226.6 2456.9 L1230.5 2457.9 L1234.4 2459 L1238.3 2460.1 L1242.2 2461.1 L1246.1 2462.1 L1250 2463.2 L1253.9 2464.2 L1257.8 2465.2 L1261.7 2466.2 L1265.6 2467.1 L1269.5 2468.1 L1273.5 2469 L1277.4 2470 L1281.3 2470.9 L1285.2 2471.8 L1289.1 2472.7 L1293 2473.5 L1297 2474.4 L1300.9 2475.2 L1304.8 2476.1 L1308.7 2476.9 L1312.7 2477.7 L1316.6 2478.5 L1320.5 2479.2 L1324.5 2480 L1328.4 2480.7 L1332.3 2481.5 L1336.3 2482.2 L1340.2 2482.9 L1344.1 2483.6 L1348.1 2484.2 L1352 2484.9 L1356 2485.5 L1359.9 2486.2 L1363.9 2486.8 L1367.8 2487.4 L1371.8 2488 L1375.7 2488.6 L1379.7 2489.2 L1383.6 2489.7 L1387.6 2490.3 L1391.5 2490.8 L1395.5 2491.3 L1399.5 2491.8 L1403.4 2492.3 L1407.4 2492.8 L1411.4 2493.3 L1415.3 2493.8 L1419.3 2494.2 L1423.3 2494.7 L1427.3 2495.1 L1431.2 2495.5 L1435.2 2496 L1439.2 2496.4 L1443.2 2496.8 L1447.2 2497.1 L1451.2 2497.5 L1455.2 2497.9 L1459.2 2498.2 L1463.2 2498.6 L1467.2 2498.9 L1471.2 2499.2 L1475.2 2499.5 L1479.2 2499.8 L1483.2 2500.1 L1487.2 2500.4 L1491.2 2500.7 L1495.2 2501 L1499.2 2501.2 L1503.3 2501.5 L1507.3 2501.7 L1511.3 2502 L1515.3 2502.2 L1519.4 2502.4 L1523.4 2502.6 L1527.4 2502.8 L1531.5 2503 L1535.5 2503.2 L1539.6 2503.4 L1543.6 2503.6 L1547.6 2503.7 L1551.7 2503.9 L1555.8 2504.1 L1559.8 2504.2 L1563.9 2504.3 L1567.9 2504.5 L1572 2504.6" fill="none" stroke="#1767C6" stroke-width="8" stroke-linejoin="round" stroke-linecap="round"/>
<path d="M322 2260.5 L325.9 2261.1 L329.8 2261.7 L333.7 2262.4 L337.7 2263.2 L341.6 2263.9 L345.5 2264.8 L349.4 2265.6 L353.3 2266.5 L357.3 2267.4 L361.2 2268.3 L365.1 2269.3 L369 2270.3 L373 2271.3 L376.9 2272.3 L380.8 2273.2 L384.8 2274.2 L388.7 2275.2 L392.6 2276.2 L396.6 2277.2 L400.5 2278.2 L404.4 2279.2 L408.4 2280.1 L412.3 2281.1 L416.2 2282 L420.2 2282.9 L424.1 2283.8 L428.1 2284.7 L432 2285.6 L435.9 2286.4 L439.9 2287.2 L443.8 2288 L447.8 2288.8 L451.7 2289.5 L455.7 2290.2 L459.6 2290.9 L463.6 2291.5 L467.5 2292.2 L471.5 2292.8 L475.4 2293.4 L479.3 2294 L483.3 2294.6 L487.2 2295.2 L491.2 2295.8 L495.1 2296.3 L499.1 2296.9 L503 2297.5 L507 2298 L510.9 2298.5 L514.9 2299.1 L518.8 2299.6 L522.8 2300.2 L526.7 2300.8 L530.7 2301.3 L534.7 2301.9 L538.6 2302.5 L542.6 2303.1 L546.5 2303.7 L550.5 2304.3 L554.4 2304.9 L558.4 2305.6 L562.3 2306.2 L566.3 2306.9 L570.2 2307.6 L574.2 2308.4 L578.1 2309.1 L582.1 2309.9 L586 2310.6 L590 2311.4 L593.9 2312.2 L597.9 2313 L601.8 2313.8 L605.8 2314.7 L609.7 2315.5 L613.7 2316.3 L617.6 2317.2 L621.6 2318.1 L625.6 2318.9 L629.5 2319.8 L633.5 2320.7 L637.4 2321.5 L641.4 2322.4 L645.3 2323.3 L649.3 2324.1 L653.2 2325 L657.2 2325.9 L661.1 2326.8 L665.1 2327.6 L669 2328.5 L673 2329.3 L676.9 2330.2 L680.9 2331 L684.8 2331.8 L688.8 2332.6 L692.7 2333.4 L696.7 2334.2 L700.6 2335 L704.6 2335.8 L708.5 2336.6 L712.5 2337.4 L716.4 2338.2 L720.4 2338.9 L724.3 2339.7 L728.3 2340.5 L732.2 2341.2 L736.1 2342 L740.1 2342.8 L744 2343.6 L748 2344.4 L751.9 2345.1 L755.9 2345.9 L759.8 2346.7 L763.8 2347.5 L767.7 2348.3 L771.7 2349.2 L775.6 2350 L779.6 2350.8 L783.5 2351.6 L787.4 2352.5 L791.4 2353.3 L795.3 2354.2 L799.3 2355 L803.2 2355.9 L807.2 2356.7 L811.1 2357.6 L815 2358.4 L819 2359.3 L822.9 2360.1 L826.9 2361 L830.8 2361.9 L834.8 2362.7 L838.7 2363.6 L842.6 2364.4 L846.6 2365.3 L850.5 2366.1 L854.4 2367 L858.4 2367.9 L862.3 2368.7 L866.3 2369.5 L870.2 2370.4 L874.1 2371.2 L878.1 2372.1 L882 2372.9 L885.9 2373.7 L889.9 2374.5 L893.8 2375.3 L897.7 2376.2 L901.7 2377 L905.6 2377.8 L909.5 2378.5 L913.5 2379.3 L917.4 2380.1 L921.3 2380.9 L925.3 2381.7 L929.2 2382.5 L933.1 2383.2 L937.1 2384 L941 2384.7 L944.9 2385.5 L948.9 2386.3 L952.8 2387 L956.7 2387.7 L960.6 2388.5 L964.6 2389.2 L968.5 2390 L972.4 2390.7 L976.3 2391.4 L980.3 2392.1 L984.2 2392.9 L988.1 2393.6 L992 2394.3 L996 2395 L999.9 2395.7 L1003.8 2396.4 L1007.7 2397.1 L1011.6 2397.8 L1015.6 2398.5 L1019.5 2399.2 L1023.4 2400 L1027.3 2400.7 L1031.2 2401.4 L1035.2 2402.1 L1039.1 2402.9 L1043 2403.6 L1046.9 2404.4 L1050.8 2405.2 L1054.7 2406 L1058.6 2406.9 L1062.6 2407.7 L1066.5 2408.6 L1070.4 2409.5 L1074.3 2410.4 L1078.2 2411.3 L1082.1 2412.2 L1086 2413.2 L1089.9 2414.2 L1093.9 2415.2 L1097.8 2416.2 L1101.7 2417.2 L1105.6 2418.2 L1109.5 2419.3 L1113.4 2420.3 L1117.3 2421.4 L1121.2 2422.5 L1125.1 2423.6 L1129 2424.6 L1132.9 2425.7 L1136.8 2426.8 L1140.7 2427.9 L1144.6 2429 L1148.5 2430.1 L1152.4 2431.3 L1156.3 2432.4 L1160.2 2433.5 L1164.1 2434.6 L1168 2435.7 L1171.9 2436.8 L1175.8 2438 L1179.7 2439.1 L1183.6 2440.2 L1187.5 2441.3 L1191.4 2442.4 L1195.3 2443.5 L1199.2 2444.7 L1203.1 2445.8 L1207 2446.9 L1210.9 2448 L1214.8 2449 L1218.7 2450.1 L1222.6 2451.2 L1226.6 2452.3 L1230.5 2453.3 L1234.4 2454.4 L1238.3 2455.4 L1242.2 2456.4 L1246.1 2457.5 L1250 2458.5 L1253.9 2459.5 L1257.8 2460.5 L1261.7 2461.4 L1265.6 2462.4 L1269.5 2463.4 L1273.5 2464.3 L1277.4 2465.2 L1281.3 2466.1 L1285.2 2467 L1289.1 2467.9 L1293 2468.8 L1297 2469.6 L1300.9 2470.4 L1304.8 2471.2 L1308.7 2472 L1312.7 2472.8 L1316.6 2473.6 L1320.5 2474.4 L1324.5 2475.1 L1328.4 2475.8 L1332.3 2476.6 L1336.3 2477.3 L1340.2 2478 L1344.1 2478.6 L1348.1 2479.3 L1352 2480 L1356 2480.6 L1359.9 2481.2 L1363.9 2481.8 L1367.8 2482.4 L1371.8 2483 L1375.7 2483.6 L1379.7 2484.2 L1383.6 2484.7 L1387.6 2485.2 L1391.5 2485.8 L1395.5 2486.3 L1399.5 2486.8 L1403.4 2487.3 L1407.4 2487.8 L1411.4 2488.2 L1415.3 2488.7 L1419.3 2489.1 L1423.3 2489.6 L1427.3 2490 L1431.2 2490.4 L1435.2 2490.8 L1439.2 2491.2 L1443.2 2491.6 L1447.2 2492 L1451.2 2492.3 L1455.2 2492.7 L1459.2 2493 L1463.2 2493.3 L1467.2 2493.7 L1471.2 2494 L1475.2 2494.3 L1479.2 2494.6 L1483.2 2494.9 L1487.2 2495.1 L1491.2 2495.4 L1495.2 2495.7 L1499.2 2495.9 L1503.3 2496.2 L1507.3 2496.4 L1511.3 2496.6 L1515.3 2496.8 L1519.4 2497 L1523.4 2497.3 L1527.4 2497.4 L1531.5 2497.6 L1535.5 2497.8 L1539.6 2498 L1543.6 2498.1 L1547.6 2498.3 L1551.7 2498.5 L1555.8 2498.6 L1559.8 2498.7 L1563.9 2498.9 L1567.9 2499 L1572 2499.1" fill="none" stroke="#FFC000" stroke-width="8.5" stroke-linejoin="round" stroke-linecap="round"/>
<line x1="369.5" y1="2438.7" x2="440" y2="2438.7" stroke="#000" stroke-width="9.5" stroke-linecap="round"/>
<text transform="translate(449 2456.2) scale(0.88 1)" font-size="49.5" text-anchor="start" fill="#000">G0</text>
<line x1="369.5" y1="2526.95" x2="440" y2="2526.95" stroke="#1767C6" stroke-width="9" stroke-linecap="round"/>
<text transform="translate(449 2544.45) scale(0.88 1)" font-size="49.5" text-anchor="start" fill="#000">G2</text>
<line x1="369.5" y1="2615.2" x2="440" y2="2615.2" stroke="#FFC000" stroke-width="8" stroke-linecap="round"/>
<text transform="translate(449 2632.7) scale(0.88 1)" font-size="49.5" text-anchor="start" fill="#000">G16</text>
</svg>
</body></html>
